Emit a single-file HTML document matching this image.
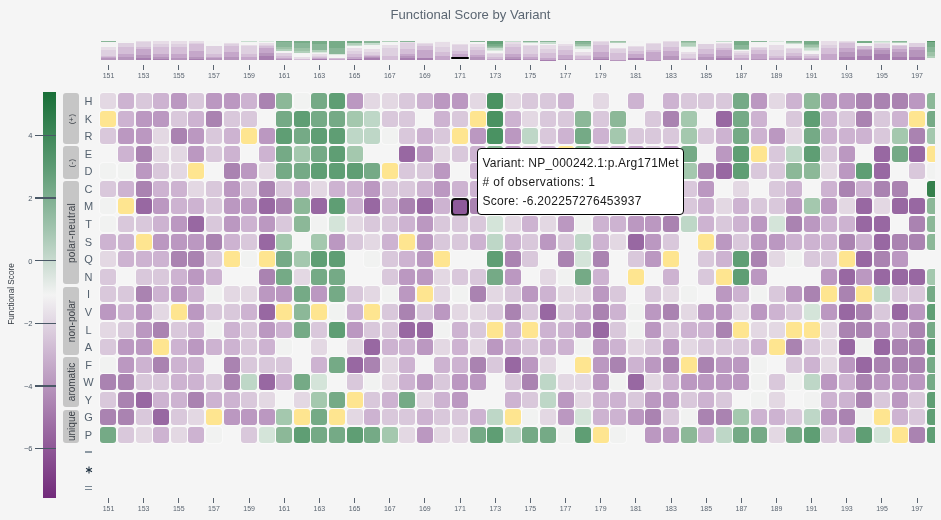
<!DOCTYPE html><html><head><meta charset="utf-8"><style>
*{margin:0;padding:0;box-sizing:border-box}
html,body{width:941px;height:520px;overflow:hidden;background:#f5f5f5;font-family:"Liberation Sans",sans-serif}
#root{position:relative;width:941px;height:520px;overflow:hidden;will-change:transform}
.ab{position:absolute}
.c{position:absolute;width:16px;height:16px;border-radius:3px;box-shadow:0 0 0 0.8px rgba(255,255,255,0.55)}
.tk{position:absolute;width:1px;background:#5a6470}
.tl{position:absolute;width:30px;text-align:center;font-size:7px;line-height:8px;color:#5a6470}
.rl{position:absolute;width:14px;text-align:center;font-size:11px;line-height:12px;color:#55626f}
.gb{position:absolute;left:62.9px;width:15.9px;background:#c6c6c6;border-radius:3px}
.gl{position:absolute;white-space:nowrap;font-size:10px;line-height:10px;color:#3c4148;transform:translate(-50%,-50%) rotate(-90deg)}
.mb{position:absolute;width:15.6px}
.mb div{height:1px;width:100%}
</style></head><body><div id="root">
<div class="ab" style="left:0;top:6.8px;width:941px;text-align:center;font-size:13.1px;line-height:16px;color:#5b6672">Functional Score by Variant</div>
<div class="ab" style="left:0;top:0;width:935.0px;height:520px;overflow:hidden">
<div class="ab" style="left:100.67px;top:41.0px;width:15.6px;height:19.38px;background:linear-gradient(to bottom,#89b698 0.00%,#89b698 5.26%,#f3f3f3 5.26%,#f3f3f3 10.53%,#f3f3f3 10.53%,#f3f3f3 15.79%,#f3f3f3 15.79%,#f3f3f3 21.05%,#f3f3f3 21.05%,#f3f3f3 26.32%,#f4f4f4 26.32%,#f4f4f4 31.58%,#e7dde7 31.58%,#e7dde7 36.84%,#e7dde7 36.84%,#e7dde7 42.11%,#e7dde7 42.11%,#e7dde7 47.37%,#ded0e0 47.37%,#ded0e0 52.63%,#ded0e0 52.63%,#ded0e0 57.89%,#ded0e0 57.89%,#ded0e0 63.16%,#ded0e0 63.16%,#ded0e0 68.42%,#ded0e0 68.42%,#ded0e0 73.68%,#ded0e0 73.68%,#ded0e0 78.95%,#d4bed7 78.95%,#d4bed7 84.21%,#c5a7ca 84.21%,#c5a7ca 89.47%,#b695bc 89.47%,#b695bc 94.74%,#b695bc 94.74%,#b695bc 100.00%)"></div>
<div class="ab" style="left:118.25px;top:41.0px;width:15.6px;height:19.38px;background:linear-gradient(to bottom,#f3f3f3 0.00%,#f3f3f3 5.26%,#f4f4f4 5.26%,#f4f4f4 10.53%,#ded0e0 10.53%,#ded0e0 15.79%,#ded0e0 15.79%,#ded0e0 21.05%,#ded0e0 21.05%,#ded0e0 26.32%,#ded0e0 26.32%,#ded0e0 31.58%,#d4bed7 31.58%,#d4bed7 36.84%,#d4bed7 36.84%,#d4bed7 42.11%,#d4bed7 42.11%,#d4bed7 47.37%,#d4bed7 47.37%,#d4bed7 52.63%,#d4bed7 52.63%,#d4bed7 57.89%,#d4bed7 57.89%,#d4bed7 63.16%,#d4bed7 63.16%,#d4bed7 68.42%,#c5a7ca 68.42%,#c5a7ca 73.68%,#c5a7ca 73.68%,#c5a7ca 78.95%,#c5a7ca 78.95%,#c5a7ca 84.21%,#b695bc 84.21%,#b695bc 89.47%,#b695bc 89.47%,#b695bc 94.74%,#b695bc 94.74%,#b695bc 100.00%)"></div>
<div class="ab" style="left:135.83px;top:41.0px;width:15.6px;height:19.38px;background:linear-gradient(to bottom,#e7dde7 0.00%,#e7dde7 5.26%,#ded0e0 5.26%,#ded0e0 10.53%,#ded0e0 10.53%,#ded0e0 15.79%,#ded0e0 15.79%,#ded0e0 21.05%,#ded0e0 21.05%,#ded0e0 26.32%,#ded0e0 26.32%,#ded0e0 31.58%,#d4bed7 31.58%,#d4bed7 36.84%,#d4bed7 36.84%,#d4bed7 42.11%,#c5a7ca 42.11%,#c5a7ca 47.37%,#c5a7ca 47.37%,#c5a7ca 52.63%,#c5a7ca 52.63%,#c5a7ca 57.89%,#c5a7ca 57.89%,#c5a7ca 63.16%,#c5a7ca 63.16%,#c5a7ca 68.42%,#c5a7ca 68.42%,#c5a7ca 73.68%,#b695bc 73.68%,#b695bc 78.95%,#b695bc 78.95%,#b695bc 84.21%,#b695bc 84.21%,#b695bc 89.47%,#a77eaf 89.47%,#a77eaf 94.74%,#a77eaf 94.74%,#a77eaf 100.00%)"></div>
<div class="ab" style="left:153.41px;top:41.0px;width:15.6px;height:19.38px;background:linear-gradient(to bottom,#e7dde7 0.00%,#e7dde7 5.26%,#e7dde7 5.26%,#e7dde7 10.53%,#e7dde7 10.53%,#e7dde7 15.79%,#ded0e0 15.79%,#ded0e0 21.05%,#ded0e0 21.05%,#ded0e0 26.32%,#ded0e0 26.32%,#ded0e0 31.58%,#d4bed7 31.58%,#d4bed7 36.84%,#d4bed7 36.84%,#d4bed7 42.11%,#d4bed7 42.11%,#d4bed7 47.37%,#d4bed7 47.37%,#d4bed7 52.63%,#d4bed7 52.63%,#d4bed7 57.89%,#d4bed7 57.89%,#d4bed7 63.16%,#d4bed7 63.16%,#d4bed7 68.42%,#c5a7ca 68.42%,#c5a7ca 73.68%,#c5a7ca 73.68%,#c5a7ca 78.95%,#c5a7ca 78.95%,#c5a7ca 84.21%,#b695bc 84.21%,#b695bc 89.47%,#b695bc 89.47%,#b695bc 94.74%,#a77eaf 94.74%,#a77eaf 100.00%)"></div>
<div class="ab" style="left:170.99px;top:41.0px;width:15.6px;height:19.38px;background:linear-gradient(to bottom,#e7dde7 0.00%,#e7dde7 5.26%,#e7dde7 5.26%,#e7dde7 10.53%,#e7dde7 10.53%,#e7dde7 15.79%,#ded0e0 15.79%,#ded0e0 21.05%,#ded0e0 21.05%,#ded0e0 26.32%,#ded0e0 26.32%,#ded0e0 31.58%,#d4bed7 31.58%,#d4bed7 36.84%,#d4bed7 36.84%,#d4bed7 42.11%,#d4bed7 42.11%,#d4bed7 47.37%,#d4bed7 47.37%,#d4bed7 52.63%,#d4bed7 52.63%,#d4bed7 57.89%,#d4bed7 57.89%,#d4bed7 63.16%,#d4bed7 63.16%,#d4bed7 68.42%,#c5a7ca 68.42%,#c5a7ca 73.68%,#c5a7ca 73.68%,#c5a7ca 78.95%,#c5a7ca 78.95%,#c5a7ca 84.21%,#c5a7ca 84.21%,#c5a7ca 89.47%,#b695bc 89.47%,#b695bc 94.74%,#b695bc 94.74%,#b695bc 100.00%)"></div>
<div class="ab" style="left:188.57px;top:41.0px;width:15.6px;height:19.38px;background:linear-gradient(to bottom,#e7dde7 0.00%,#e7dde7 5.26%,#e7dde7 5.26%,#e7dde7 10.53%,#ded0e0 10.53%,#ded0e0 15.79%,#d4bed7 15.79%,#d4bed7 21.05%,#d4bed7 21.05%,#d4bed7 26.32%,#d4bed7 26.32%,#d4bed7 31.58%,#d4bed7 31.58%,#d4bed7 36.84%,#d4bed7 36.84%,#d4bed7 42.11%,#d4bed7 42.11%,#d4bed7 47.37%,#d4bed7 47.37%,#d4bed7 52.63%,#c5a7ca 52.63%,#c5a7ca 57.89%,#c5a7ca 57.89%,#c5a7ca 63.16%,#c5a7ca 63.16%,#c5a7ca 68.42%,#c5a7ca 68.42%,#c5a7ca 73.68%,#c5a7ca 73.68%,#c5a7ca 78.95%,#c5a7ca 78.95%,#c5a7ca 84.21%,#b695bc 84.21%,#b695bc 89.47%,#b695bc 89.47%,#b695bc 94.74%,#a77eaf 94.74%,#a77eaf 100.00%)"></div>
<div class="ab" style="left:206.15px;top:41.0px;width:15.6px;height:19.38px;background:linear-gradient(to bottom,#f3f3f3 0.00%,#f3f3f3 5.26%,#f3f3f3 5.26%,#f3f3f3 10.53%,#f3f3f3 10.53%,#f3f3f3 15.79%,#f4f4f4 15.79%,#f4f4f4 21.05%,#f4f4f4 21.05%,#f4f4f4 26.32%,#ded0e0 26.32%,#ded0e0 31.58%,#ded0e0 31.58%,#ded0e0 36.84%,#ded0e0 36.84%,#ded0e0 42.11%,#ded0e0 42.11%,#ded0e0 47.37%,#ded0e0 47.37%,#ded0e0 52.63%,#ded0e0 52.63%,#ded0e0 57.89%,#ded0e0 57.89%,#ded0e0 63.16%,#ded0e0 63.16%,#ded0e0 68.42%,#d4bed7 68.42%,#d4bed7 73.68%,#d4bed7 73.68%,#d4bed7 78.95%,#d4bed7 78.95%,#d4bed7 84.21%,#c5a7ca 84.21%,#c5a7ca 89.47%,#b695bc 89.47%,#b695bc 94.74%,#b695bc 94.74%,#b695bc 100.00%)"></div>
<div class="ab" style="left:223.73px;top:41.0px;width:15.6px;height:19.38px;background:linear-gradient(to bottom,#f4f4f4 0.00%,#f4f4f4 5.26%,#f4f4f4 5.26%,#f4f4f4 10.53%,#e7dde7 10.53%,#e7dde7 15.79%,#ded0e0 15.79%,#ded0e0 21.05%,#ded0e0 21.05%,#ded0e0 26.32%,#d4bed7 26.32%,#d4bed7 31.58%,#d4bed7 31.58%,#d4bed7 36.84%,#d4bed7 36.84%,#d4bed7 42.11%,#d4bed7 42.11%,#d4bed7 47.37%,#d4bed7 47.37%,#d4bed7 52.63%,#d4bed7 52.63%,#d4bed7 57.89%,#c5a7ca 57.89%,#c5a7ca 63.16%,#c5a7ca 63.16%,#c5a7ca 68.42%,#c5a7ca 68.42%,#c5a7ca 73.68%,#c5a7ca 73.68%,#c5a7ca 78.95%,#c5a7ca 78.95%,#c5a7ca 84.21%,#b695bc 84.21%,#b695bc 89.47%,#b695bc 89.47%,#b695bc 94.74%,#b695bc 94.74%,#b695bc 100.00%)"></div>
<div class="ab" style="left:241.31px;top:41.0px;width:15.6px;height:19.38px;background:linear-gradient(to bottom,#c7ddcf 0.00%,#c7ddcf 5.26%,#f3f3f3 5.26%,#f3f3f3 10.53%,#f4f4f4 10.53%,#f4f4f4 15.79%,#f4f4f4 15.79%,#f4f4f4 21.05%,#e7dde7 21.05%,#e7dde7 26.32%,#ded0e0 26.32%,#ded0e0 31.58%,#ded0e0 31.58%,#ded0e0 36.84%,#ded0e0 36.84%,#ded0e0 42.11%,#ded0e0 42.11%,#ded0e0 47.37%,#ded0e0 47.37%,#ded0e0 52.63%,#ded0e0 52.63%,#ded0e0 57.89%,#ded0e0 57.89%,#ded0e0 63.16%,#ded0e0 63.16%,#ded0e0 68.42%,#d4bed7 68.42%,#d4bed7 73.68%,#d4bed7 73.68%,#d4bed7 78.95%,#d4bed7 78.95%,#d4bed7 84.21%,#c5a7ca 84.21%,#c5a7ca 89.47%,#c5a7ca 89.47%,#c5a7ca 94.74%,#c5a7ca 94.74%,#c5a7ca 100.00%)"></div>
<div class="ab" style="left:258.89px;top:41.0px;width:15.6px;height:19.38px;background:linear-gradient(to bottom,#dae8de 0.00%,#dae8de 5.26%,#f4f4f4 5.26%,#f4f4f4 10.53%,#e7dde7 10.53%,#e7dde7 15.79%,#e7dde7 15.79%,#e7dde7 21.05%,#ded0e0 21.05%,#ded0e0 26.32%,#d4bed7 26.32%,#d4bed7 31.58%,#d4bed7 31.58%,#d4bed7 36.84%,#c5a7ca 36.84%,#c5a7ca 42.11%,#c5a7ca 42.11%,#c5a7ca 47.37%,#c5a7ca 47.37%,#c5a7ca 52.63%,#c5a7ca 52.63%,#c5a7ca 57.89%,#c5a7ca 57.89%,#c5a7ca 63.16%,#b695bc 63.16%,#b695bc 68.42%,#b695bc 68.42%,#b695bc 73.68%,#b695bc 73.68%,#b695bc 78.95%,#a77eaf 78.95%,#a77eaf 84.21%,#a77eaf 84.21%,#a77eaf 89.47%,#a77eaf 89.47%,#a77eaf 94.74%,#a77eaf 94.74%,#a77eaf 100.00%)"></div>
<div class="ab" style="left:276.47px;top:41.0px;width:15.6px;height:19.38px;background:linear-gradient(to bottom,#77ac88 0.00%,#77ac88 5.26%,#89b698 5.26%,#89b698 10.53%,#89b698 10.53%,#89b698 15.79%,#89b698 15.79%,#89b698 21.05%,#89b698 21.05%,#89b698 26.32%,#89b698 26.32%,#89b698 31.58%,#9dc2a7 31.58%,#9dc2a7 36.84%,#9dc2a7 36.84%,#9dc2a7 42.11%,#b1d0ba 42.11%,#b1d0ba 47.37%,#b1d0ba 47.37%,#b1d0ba 52.63%,#f3f3f3 52.63%,#f3f3f3 57.89%,#f4f4f4 57.89%,#f4f4f4 63.16%,#ded0e0 63.16%,#ded0e0 68.42%,#ded0e0 68.42%,#ded0e0 73.68%,#ded0e0 73.68%,#ded0e0 78.95%,#d4bed7 78.95%,#d4bed7 84.21%,#d4bed7 84.21%,#d4bed7 89.47%,#c5a7ca 89.47%,#c5a7ca 94.74%,#b695bc 94.74%,#b695bc 100.00%)"></div>
<div class="ab" style="left:294.05px;top:41.0px;width:15.6px;height:19.38px;background:linear-gradient(to bottom,#77ac88 0.00%,#77ac88 5.26%,#77ac88 5.26%,#77ac88 10.53%,#89b698 10.53%,#89b698 15.79%,#89b698 15.79%,#89b698 21.05%,#89b698 21.05%,#89b698 26.32%,#89b698 26.32%,#89b698 31.58%,#89b698 31.58%,#89b698 36.84%,#9dc2a7 36.84%,#9dc2a7 42.11%,#9dc2a7 42.11%,#9dc2a7 47.37%,#9dc2a7 47.37%,#9dc2a7 52.63%,#b1d0ba 52.63%,#b1d0ba 57.89%,#b1d0ba 57.89%,#b1d0ba 63.16%,#f3f3f3 63.16%,#f3f3f3 68.42%,#f4f4f4 68.42%,#f4f4f4 73.68%,#f4f4f4 73.68%,#f4f4f4 78.95%,#f4f4f4 78.95%,#f4f4f4 84.21%,#e7dde7 84.21%,#e7dde7 89.47%,#e7dde7 89.47%,#e7dde7 94.74%,#d4bed7 94.74%,#d4bed7 100.00%)"></div>
<div class="ab" style="left:311.63px;top:41.0px;width:15.6px;height:19.38px;background:linear-gradient(to bottom,#77ac88 0.00%,#77ac88 5.26%,#77ac88 5.26%,#77ac88 10.53%,#77ac88 10.53%,#77ac88 15.79%,#89b698 15.79%,#89b698 21.05%,#89b698 21.05%,#89b698 26.32%,#89b698 26.32%,#89b698 31.58%,#89b698 31.58%,#89b698 36.84%,#89b698 36.84%,#89b698 42.11%,#89b698 42.11%,#89b698 47.37%,#b1d0ba 47.37%,#b1d0ba 52.63%,#b1d0ba 52.63%,#b1d0ba 57.89%,#dae8de 57.89%,#dae8de 63.16%,#f3f3f3 63.16%,#f3f3f3 68.42%,#e7dde7 68.42%,#e7dde7 73.68%,#e7dde7 73.68%,#e7dde7 78.95%,#ded0e0 78.95%,#ded0e0 84.21%,#d4bed7 84.21%,#d4bed7 89.47%,#c5a7ca 89.47%,#c5a7ca 94.74%,#a77eaf 94.74%,#a77eaf 100.00%)"></div>
<div class="ab" style="left:329.21px;top:41.0px;width:15.6px;height:19.38px;background:linear-gradient(to bottom,#77ac88 0.00%,#77ac88 5.26%,#77ac88 5.26%,#77ac88 10.53%,#77ac88 10.53%,#77ac88 15.79%,#77ac88 15.79%,#77ac88 21.05%,#77ac88 21.05%,#77ac88 26.32%,#77ac88 26.32%,#77ac88 31.58%,#77ac88 31.58%,#77ac88 36.84%,#89b698 36.84%,#89b698 42.11%,#89b698 42.11%,#89b698 47.37%,#89b698 47.37%,#89b698 52.63%,#89b698 52.63%,#89b698 57.89%,#89b698 57.89%,#89b698 63.16%,#89b698 63.16%,#89b698 68.42%,#dae8de 68.42%,#dae8de 73.68%,#f3f3f3 73.68%,#f3f3f3 78.95%,#f4f4f4 78.95%,#f4f4f4 84.21%,#f4f4f4 84.21%,#f4f4f4 89.47%,#d4bed7 89.47%,#d4bed7 94.74%,#c5a7ca 94.74%,#c5a7ca 100.00%)"></div>
<div class="ab" style="left:346.79px;top:41.0px;width:15.6px;height:19.38px;background:linear-gradient(to bottom,#77ac88 0.00%,#77ac88 5.26%,#77ac88 5.26%,#77ac88 10.53%,#b1d0ba 10.53%,#b1d0ba 15.79%,#b1d0ba 15.79%,#b1d0ba 21.05%,#c7ddcf 21.05%,#c7ddcf 26.32%,#f4f4f4 26.32%,#f4f4f4 31.58%,#f4f4f4 31.58%,#f4f4f4 36.84%,#e7dde7 36.84%,#e7dde7 42.11%,#e7dde7 42.11%,#e7dde7 47.37%,#e7dde7 47.37%,#e7dde7 52.63%,#ded0e0 52.63%,#ded0e0 57.89%,#ded0e0 57.89%,#ded0e0 63.16%,#ded0e0 63.16%,#ded0e0 68.42%,#d4bed7 68.42%,#d4bed7 73.68%,#d4bed7 73.68%,#d4bed7 78.95%,#d4bed7 78.95%,#d4bed7 84.21%,#c5a7ca 84.21%,#c5a7ca 89.47%,#c5a7ca 89.47%,#c5a7ca 94.74%,#a77eaf 94.74%,#a77eaf 100.00%)"></div>
<div class="ab" style="left:364.37px;top:41.0px;width:15.6px;height:19.38px;background:linear-gradient(to bottom,#89b698 0.00%,#89b698 5.26%,#89b698 5.26%,#89b698 10.53%,#c7ddcf 10.53%,#c7ddcf 15.79%,#c7ddcf 15.79%,#c7ddcf 21.05%,#f3f3f3 21.05%,#f3f3f3 26.32%,#f3f3f3 26.32%,#f3f3f3 31.58%,#f4f4f4 31.58%,#f4f4f4 36.84%,#f4f4f4 36.84%,#f4f4f4 42.11%,#e7dde7 42.11%,#e7dde7 47.37%,#e7dde7 47.37%,#e7dde7 52.63%,#e7dde7 52.63%,#e7dde7 57.89%,#ded0e0 57.89%,#ded0e0 63.16%,#ded0e0 63.16%,#ded0e0 68.42%,#ded0e0 68.42%,#ded0e0 73.68%,#d4bed7 73.68%,#d4bed7 78.95%,#c5a7ca 78.95%,#c5a7ca 84.21%,#b695bc 84.21%,#b695bc 89.47%,#a77eaf 89.47%,#a77eaf 94.74%,#a77eaf 94.74%,#a77eaf 100.00%)"></div>
<div class="ab" style="left:381.95px;top:41.0px;width:15.6px;height:19.38px;background:linear-gradient(to bottom,#b1d0ba 0.00%,#b1d0ba 5.26%,#f3f3f3 5.26%,#f3f3f3 10.53%,#f3f3f3 10.53%,#f3f3f3 15.79%,#f4f4f4 15.79%,#f4f4f4 21.05%,#e7dde7 21.05%,#e7dde7 26.32%,#e7dde7 26.32%,#e7dde7 31.58%,#e7dde7 31.58%,#e7dde7 36.84%,#ded0e0 36.84%,#ded0e0 42.11%,#ded0e0 42.11%,#ded0e0 47.37%,#ded0e0 47.37%,#ded0e0 52.63%,#ded0e0 52.63%,#ded0e0 57.89%,#ded0e0 57.89%,#ded0e0 63.16%,#ded0e0 63.16%,#ded0e0 68.42%,#ded0e0 68.42%,#ded0e0 73.68%,#ded0e0 73.68%,#ded0e0 78.95%,#d4bed7 78.95%,#d4bed7 84.21%,#d4bed7 84.21%,#d4bed7 89.47%,#d4bed7 89.47%,#d4bed7 94.74%,#d4bed7 94.74%,#d4bed7 100.00%)"></div>
<div class="ab" style="left:399.53px;top:41.0px;width:15.6px;height:19.38px;background:linear-gradient(to bottom,#89b698 0.00%,#89b698 5.26%,#e7dde7 5.26%,#e7dde7 10.53%,#ded0e0 10.53%,#ded0e0 15.79%,#ded0e0 15.79%,#ded0e0 21.05%,#ded0e0 21.05%,#ded0e0 26.32%,#ded0e0 26.32%,#ded0e0 31.58%,#ded0e0 31.58%,#ded0e0 36.84%,#ded0e0 36.84%,#ded0e0 42.11%,#d4bed7 42.11%,#d4bed7 47.37%,#d4bed7 47.37%,#d4bed7 52.63%,#d4bed7 52.63%,#d4bed7 57.89%,#d4bed7 57.89%,#d4bed7 63.16%,#d4bed7 63.16%,#d4bed7 68.42%,#c5a7ca 68.42%,#c5a7ca 73.68%,#c5a7ca 73.68%,#c5a7ca 78.95%,#b695bc 78.95%,#b695bc 84.21%,#b695bc 84.21%,#b695bc 89.47%,#a77eaf 89.47%,#a77eaf 94.74%,#a77eaf 94.74%,#a77eaf 100.00%)"></div>
<div class="ab" style="left:417.11px;top:41.0px;width:15.6px;height:19.38px;background:linear-gradient(to bottom,#f4f4f4 0.00%,#f4f4f4 5.26%,#f4f4f4 5.26%,#f4f4f4 10.53%,#e7dde7 10.53%,#e7dde7 15.79%,#ded0e0 15.79%,#ded0e0 21.05%,#ded0e0 21.05%,#ded0e0 26.32%,#d4bed7 26.32%,#d4bed7 31.58%,#d4bed7 31.58%,#d4bed7 36.84%,#d4bed7 36.84%,#d4bed7 42.11%,#d4bed7 42.11%,#d4bed7 47.37%,#c5a7ca 47.37%,#c5a7ca 52.63%,#c5a7ca 52.63%,#c5a7ca 57.89%,#c5a7ca 57.89%,#c5a7ca 63.16%,#c5a7ca 63.16%,#c5a7ca 68.42%,#c5a7ca 68.42%,#c5a7ca 73.68%,#c5a7ca 73.68%,#c5a7ca 78.95%,#c5a7ca 78.95%,#c5a7ca 84.21%,#c5a7ca 84.21%,#c5a7ca 89.47%,#a77eaf 89.47%,#a77eaf 94.74%,#a77eaf 94.74%,#a77eaf 100.00%)"></div>
<div class="ab" style="left:434.69px;top:41.0px;width:15.6px;height:19.38px;background:linear-gradient(to bottom,#f3f3f3 0.00%,#f3f3f3 5.26%,#e7dde7 5.26%,#e7dde7 10.53%,#e7dde7 10.53%,#e7dde7 15.79%,#e7dde7 15.79%,#e7dde7 21.05%,#e7dde7 21.05%,#e7dde7 26.32%,#e7dde7 26.32%,#e7dde7 31.58%,#ded0e0 31.58%,#ded0e0 36.84%,#ded0e0 36.84%,#ded0e0 42.11%,#ded0e0 42.11%,#ded0e0 47.37%,#ded0e0 47.37%,#ded0e0 52.63%,#ded0e0 52.63%,#ded0e0 57.89%,#d4bed7 57.89%,#d4bed7 63.16%,#d4bed7 63.16%,#d4bed7 68.42%,#d4bed7 68.42%,#d4bed7 73.68%,#d4bed7 73.68%,#d4bed7 78.95%,#c5a7ca 78.95%,#c5a7ca 84.21%,#c5a7ca 84.21%,#c5a7ca 89.47%,#c5a7ca 89.47%,#c5a7ca 94.74%,#c5a7ca 94.74%,#c5a7ca 100.00%)"></div>
<div class="ab" style="left:452.27px;top:41.0px;width:15.6px;height:17.00px;background:linear-gradient(to bottom,#f3f3f3 0.00%,#f3f3f3 5.26%,#f4f4f4 5.26%,#f4f4f4 10.53%,#f4f4f4 10.53%,#f4f4f4 15.79%,#e7dde7 15.79%,#e7dde7 21.05%,#e7dde7 21.05%,#e7dde7 26.32%,#ded0e0 26.32%,#ded0e0 31.58%,#ded0e0 31.58%,#ded0e0 36.84%,#ded0e0 36.84%,#ded0e0 42.11%,#ded0e0 42.11%,#ded0e0 47.37%,#ded0e0 47.37%,#ded0e0 52.63%,#ded0e0 52.63%,#ded0e0 57.89%,#d4bed7 57.89%,#d4bed7 63.16%,#d4bed7 63.16%,#d4bed7 68.42%,#d4bed7 68.42%,#d4bed7 73.68%,#d4bed7 73.68%,#d4bed7 78.95%,#c5a7ca 78.95%,#c5a7ca 84.21%,#c5a7ca 84.21%,#c5a7ca 89.47%,#c5a7ca 89.47%,#c5a7ca 94.74%,#a77eaf 94.74%,#a77eaf 100.00%)"></div>
<div class="ab" style="left:451.4px;top:57.1px;width:17.4px;height:1.9px;border-radius:1px;background:#000"></div>
<div class="ab" style="left:469.85px;top:41.0px;width:15.6px;height:19.38px;background:linear-gradient(to bottom,#89b698 0.00%,#89b698 5.26%,#f4f4f4 5.26%,#f4f4f4 10.53%,#f4f4f4 10.53%,#f4f4f4 15.79%,#e7dde7 15.79%,#e7dde7 21.05%,#e7dde7 21.05%,#e7dde7 26.32%,#e7dde7 26.32%,#e7dde7 31.58%,#ded0e0 31.58%,#ded0e0 36.84%,#ded0e0 36.84%,#ded0e0 42.11%,#ded0e0 42.11%,#ded0e0 47.37%,#d4bed7 47.37%,#d4bed7 52.63%,#d4bed7 52.63%,#d4bed7 57.89%,#d4bed7 57.89%,#d4bed7 63.16%,#d4bed7 63.16%,#d4bed7 68.42%,#d4bed7 68.42%,#d4bed7 73.68%,#c5a7ca 73.68%,#c5a7ca 78.95%,#c5a7ca 78.95%,#c5a7ca 84.21%,#b695bc 84.21%,#b695bc 89.47%,#b695bc 89.47%,#b695bc 94.74%,#b695bc 94.74%,#b695bc 100.00%)"></div>
<div class="ab" style="left:487.43px;top:41.0px;width:15.6px;height:19.38px;background:linear-gradient(to bottom,#65a279 0.00%,#65a279 5.26%,#65a279 5.26%,#65a279 10.53%,#65a279 10.53%,#65a279 15.79%,#77ac88 15.79%,#77ac88 21.05%,#77ac88 21.05%,#77ac88 26.32%,#89b698 26.32%,#89b698 31.58%,#9dc2a7 31.58%,#9dc2a7 36.84%,#c7ddcf 36.84%,#c7ddcf 42.11%,#c7ddcf 42.11%,#c7ddcf 47.37%,#dae8de 47.37%,#dae8de 52.63%,#f4f4f4 52.63%,#f4f4f4 57.89%,#f4f4f4 57.89%,#f4f4f4 63.16%,#e7dde7 63.16%,#e7dde7 68.42%,#ded0e0 68.42%,#ded0e0 73.68%,#ded0e0 73.68%,#ded0e0 78.95%,#ded0e0 78.95%,#ded0e0 84.21%,#d4bed7 84.21%,#d4bed7 89.47%,#d4bed7 89.47%,#d4bed7 94.74%,#c5a7ca 94.74%,#c5a7ca 100.00%)"></div>
<div class="ab" style="left:505.01px;top:41.0px;width:15.6px;height:19.38px;background:linear-gradient(to bottom,#c7ddcf 0.00%,#c7ddcf 5.26%,#e7dde7 5.26%,#e7dde7 10.53%,#e7dde7 10.53%,#e7dde7 15.79%,#ded0e0 15.79%,#ded0e0 21.05%,#ded0e0 21.05%,#ded0e0 26.32%,#ded0e0 26.32%,#ded0e0 31.58%,#d4bed7 31.58%,#d4bed7 36.84%,#d4bed7 36.84%,#d4bed7 42.11%,#d4bed7 42.11%,#d4bed7 47.37%,#d4bed7 47.37%,#d4bed7 52.63%,#d4bed7 52.63%,#d4bed7 57.89%,#d4bed7 57.89%,#d4bed7 63.16%,#d4bed7 63.16%,#d4bed7 68.42%,#c5a7ca 68.42%,#c5a7ca 73.68%,#c5a7ca 73.68%,#c5a7ca 78.95%,#c5a7ca 78.95%,#c5a7ca 84.21%,#b695bc 84.21%,#b695bc 89.47%,#b695bc 89.47%,#b695bc 94.74%,#a77eaf 94.74%,#a77eaf 100.00%)"></div>
<div class="ab" style="left:522.59px;top:41.0px;width:15.6px;height:19.38px;background:linear-gradient(to bottom,#89b698 0.00%,#89b698 5.26%,#c7ddcf 5.26%,#c7ddcf 10.53%,#f3f3f3 10.53%,#f3f3f3 15.79%,#f4f4f4 15.79%,#f4f4f4 21.05%,#e7dde7 21.05%,#e7dde7 26.32%,#ded0e0 26.32%,#ded0e0 31.58%,#ded0e0 31.58%,#ded0e0 36.84%,#ded0e0 36.84%,#ded0e0 42.11%,#ded0e0 42.11%,#ded0e0 47.37%,#ded0e0 47.37%,#ded0e0 52.63%,#ded0e0 52.63%,#ded0e0 57.89%,#ded0e0 57.89%,#ded0e0 63.16%,#ded0e0 63.16%,#ded0e0 68.42%,#d4bed7 68.42%,#d4bed7 73.68%,#d4bed7 73.68%,#d4bed7 78.95%,#d4bed7 78.95%,#d4bed7 84.21%,#c5a7ca 84.21%,#c5a7ca 89.47%,#c5a7ca 89.47%,#c5a7ca 94.74%,#b695bc 94.74%,#b695bc 100.00%)"></div>
<div class="ab" style="left:540.17px;top:41.0px;width:15.6px;height:20.40px;background:linear-gradient(to bottom,#89b698 0.00%,#89b698 5.00%,#c7ddcf 5.00%,#c7ddcf 10.00%,#c7ddcf 10.00%,#c7ddcf 15.00%,#f4f4f4 15.00%,#f4f4f4 20.00%,#e7dde7 20.00%,#e7dde7 25.00%,#e7dde7 25.00%,#e7dde7 30.00%,#e7dde7 30.00%,#e7dde7 35.00%,#e7dde7 35.00%,#e7dde7 40.00%,#ded0e0 40.00%,#ded0e0 45.00%,#ded0e0 45.00%,#ded0e0 50.00%,#ded0e0 50.00%,#ded0e0 55.00%,#ded0e0 55.00%,#ded0e0 60.00%,#d4bed7 60.00%,#d4bed7 65.00%,#d4bed7 65.00%,#d4bed7 70.00%,#d4bed7 70.00%,#d4bed7 75.00%,#d4bed7 75.00%,#d4bed7 80.00%,#d4bed7 80.00%,#d4bed7 85.00%,#c5a7ca 85.00%,#c5a7ca 90.00%,#c5a7ca 90.00%,#c5a7ca 95.00%,#a77eaf 95.00%,#a77eaf 100.00%)"></div>
<div class="ab" style="left:557.75px;top:41.0px;width:15.6px;height:19.38px;background:linear-gradient(to bottom,#f3f3f3 0.00%,#f3f3f3 5.26%,#f3f3f3 5.26%,#f3f3f3 10.53%,#f4f4f4 10.53%,#f4f4f4 15.79%,#e7dde7 15.79%,#e7dde7 21.05%,#e7dde7 21.05%,#e7dde7 26.32%,#ded0e0 26.32%,#ded0e0 31.58%,#ded0e0 31.58%,#ded0e0 36.84%,#ded0e0 36.84%,#ded0e0 42.11%,#ded0e0 42.11%,#ded0e0 47.37%,#d4bed7 47.37%,#d4bed7 52.63%,#d4bed7 52.63%,#d4bed7 57.89%,#d4bed7 57.89%,#d4bed7 63.16%,#d4bed7 63.16%,#d4bed7 68.42%,#d4bed7 68.42%,#d4bed7 73.68%,#c5a7ca 73.68%,#c5a7ca 78.95%,#c5a7ca 78.95%,#c5a7ca 84.21%,#c5a7ca 84.21%,#c5a7ca 89.47%,#c5a7ca 89.47%,#c5a7ca 94.74%,#b695bc 94.74%,#b695bc 100.00%)"></div>
<div class="ab" style="left:575.33px;top:41.0px;width:15.6px;height:19.38px;background:linear-gradient(to bottom,#77ac88 0.00%,#77ac88 5.26%,#89b698 5.26%,#89b698 10.53%,#89b698 10.53%,#89b698 15.79%,#9dc2a7 15.79%,#9dc2a7 21.05%,#9dc2a7 21.05%,#9dc2a7 26.32%,#c7ddcf 26.32%,#c7ddcf 31.58%,#dae8de 31.58%,#dae8de 36.84%,#dae8de 36.84%,#dae8de 42.11%,#f3f3f3 42.11%,#f3f3f3 47.37%,#f3f3f3 47.37%,#f3f3f3 52.63%,#f4f4f4 52.63%,#f4f4f4 57.89%,#e7dde7 57.89%,#e7dde7 63.16%,#e7dde7 63.16%,#e7dde7 68.42%,#e7dde7 68.42%,#e7dde7 73.68%,#ded0e0 73.68%,#ded0e0 78.95%,#d4bed7 78.95%,#d4bed7 84.21%,#d4bed7 84.21%,#d4bed7 89.47%,#d4bed7 89.47%,#d4bed7 94.74%,#c5a7ca 94.74%,#c5a7ca 100.00%)"></div>
<div class="ab" style="left:592.91px;top:41.0px;width:15.6px;height:19.38px;background:linear-gradient(to bottom,#e7dde7 0.00%,#e7dde7 5.26%,#ded0e0 5.26%,#ded0e0 10.53%,#ded0e0 10.53%,#ded0e0 15.79%,#ded0e0 15.79%,#ded0e0 21.05%,#d4bed7 21.05%,#d4bed7 26.32%,#d4bed7 26.32%,#d4bed7 31.58%,#d4bed7 31.58%,#d4bed7 36.84%,#d4bed7 36.84%,#d4bed7 42.11%,#d4bed7 42.11%,#d4bed7 47.37%,#d4bed7 47.37%,#d4bed7 52.63%,#d4bed7 52.63%,#d4bed7 57.89%,#c5a7ca 57.89%,#c5a7ca 63.16%,#c5a7ca 63.16%,#c5a7ca 68.42%,#c5a7ca 68.42%,#c5a7ca 73.68%,#c5a7ca 73.68%,#c5a7ca 78.95%,#c5a7ca 78.95%,#c5a7ca 84.21%,#b695bc 84.21%,#b695bc 89.47%,#b695bc 89.47%,#b695bc 94.74%,#a77eaf 94.74%,#a77eaf 100.00%)"></div>
<div class="ab" style="left:610.49px;top:41.0px;width:15.6px;height:20.40px;background:linear-gradient(to bottom,#9dc2a7 0.00%,#9dc2a7 5.00%,#b1d0ba 5.00%,#b1d0ba 10.00%,#f3f3f3 10.00%,#f3f3f3 15.00%,#f3f3f3 15.00%,#f3f3f3 20.00%,#f4f4f4 20.00%,#f4f4f4 25.00%,#f4f4f4 25.00%,#f4f4f4 30.00%,#f4f4f4 30.00%,#f4f4f4 35.00%,#e7dde7 35.00%,#e7dde7 40.00%,#ded0e0 40.00%,#ded0e0 45.00%,#ded0e0 45.00%,#ded0e0 50.00%,#ded0e0 50.00%,#ded0e0 55.00%,#ded0e0 55.00%,#ded0e0 60.00%,#d4bed7 60.00%,#d4bed7 65.00%,#d4bed7 65.00%,#d4bed7 70.00%,#d4bed7 70.00%,#d4bed7 75.00%,#d4bed7 75.00%,#d4bed7 80.00%,#d4bed7 80.00%,#d4bed7 85.00%,#d4bed7 85.00%,#d4bed7 90.00%,#d4bed7 90.00%,#d4bed7 95.00%,#b695bc 95.00%,#b695bc 100.00%)"></div>
<div class="ab" style="left:628.07px;top:41.0px;width:15.6px;height:19.38px;background:linear-gradient(to bottom,#f3f3f3 0.00%,#f3f3f3 5.26%,#f3f3f3 5.26%,#f3f3f3 10.53%,#f4f4f4 10.53%,#f4f4f4 15.79%,#f4f4f4 15.79%,#f4f4f4 21.05%,#f4f4f4 21.05%,#f4f4f4 26.32%,#e7dde7 26.32%,#e7dde7 31.58%,#ded0e0 31.58%,#ded0e0 36.84%,#ded0e0 36.84%,#ded0e0 42.11%,#ded0e0 42.11%,#ded0e0 47.37%,#ded0e0 47.37%,#ded0e0 52.63%,#d4bed7 52.63%,#d4bed7 57.89%,#d4bed7 57.89%,#d4bed7 63.16%,#d4bed7 63.16%,#d4bed7 68.42%,#c5a7ca 68.42%,#c5a7ca 73.68%,#c5a7ca 73.68%,#c5a7ca 78.95%,#c5a7ca 78.95%,#c5a7ca 84.21%,#c5a7ca 84.21%,#c5a7ca 89.47%,#a77eaf 89.47%,#a77eaf 94.74%,#a77eaf 94.74%,#a77eaf 100.00%)"></div>
<div class="ab" style="left:645.65px;top:41.0px;width:15.6px;height:20.40px;background:linear-gradient(to bottom,#f4f4f4 0.00%,#f4f4f4 5.00%,#f4f4f4 5.00%,#f4f4f4 10.00%,#e7dde7 10.00%,#e7dde7 15.00%,#ded0e0 15.00%,#ded0e0 20.00%,#ded0e0 20.00%,#ded0e0 25.00%,#ded0e0 25.00%,#ded0e0 30.00%,#ded0e0 30.00%,#ded0e0 35.00%,#ded0e0 35.00%,#ded0e0 40.00%,#ded0e0 40.00%,#ded0e0 45.00%,#d4bed7 45.00%,#d4bed7 50.00%,#d4bed7 50.00%,#d4bed7 55.00%,#c5a7ca 55.00%,#c5a7ca 60.00%,#c5a7ca 60.00%,#c5a7ca 65.00%,#c5a7ca 65.00%,#c5a7ca 70.00%,#c5a7ca 70.00%,#c5a7ca 75.00%,#c5a7ca 75.00%,#c5a7ca 80.00%,#c5a7ca 80.00%,#c5a7ca 85.00%,#c5a7ca 85.00%,#c5a7ca 90.00%,#c5a7ca 90.00%,#c5a7ca 95.00%,#b695bc 95.00%,#b695bc 100.00%)"></div>
<div class="ab" style="left:663.23px;top:41.0px;width:15.6px;height:19.38px;background:linear-gradient(to bottom,#e7dde7 0.00%,#e7dde7 5.26%,#ded0e0 5.26%,#ded0e0 10.53%,#ded0e0 10.53%,#ded0e0 15.79%,#ded0e0 15.79%,#ded0e0 21.05%,#ded0e0 21.05%,#ded0e0 26.32%,#ded0e0 26.32%,#ded0e0 31.58%,#d4bed7 31.58%,#d4bed7 36.84%,#d4bed7 36.84%,#d4bed7 42.11%,#d4bed7 42.11%,#d4bed7 47.37%,#d4bed7 47.37%,#d4bed7 52.63%,#c5a7ca 52.63%,#c5a7ca 57.89%,#c5a7ca 57.89%,#c5a7ca 63.16%,#c5a7ca 63.16%,#c5a7ca 68.42%,#c5a7ca 68.42%,#c5a7ca 73.68%,#c5a7ca 73.68%,#c5a7ca 78.95%,#b695bc 78.95%,#b695bc 84.21%,#b695bc 84.21%,#b695bc 89.47%,#b695bc 89.47%,#b695bc 94.74%,#b695bc 94.74%,#b695bc 100.00%)"></div>
<div class="ab" style="left:680.81px;top:41.0px;width:15.6px;height:19.38px;background:linear-gradient(to bottom,#89b698 0.00%,#89b698 5.26%,#9dc2a7 5.26%,#9dc2a7 10.53%,#b1d0ba 10.53%,#b1d0ba 15.79%,#b1d0ba 15.79%,#b1d0ba 21.05%,#b1d0ba 21.05%,#b1d0ba 26.32%,#c7ddcf 26.32%,#c7ddcf 31.58%,#f3f3f3 31.58%,#f3f3f3 36.84%,#f3f3f3 36.84%,#f3f3f3 42.11%,#f4f4f4 42.11%,#f4f4f4 47.37%,#f4f4f4 47.37%,#f4f4f4 52.63%,#f4f4f4 52.63%,#f4f4f4 57.89%,#e7dde7 57.89%,#e7dde7 63.16%,#e7dde7 63.16%,#e7dde7 68.42%,#ded0e0 68.42%,#ded0e0 73.68%,#ded0e0 73.68%,#ded0e0 78.95%,#ded0e0 78.95%,#ded0e0 84.21%,#ded0e0 84.21%,#ded0e0 89.47%,#d4bed7 89.47%,#d4bed7 94.74%,#c5a7ca 94.74%,#c5a7ca 100.00%)"></div>
<div class="ab" style="left:698.39px;top:41.0px;width:15.6px;height:19.38px;background:linear-gradient(to bottom,#f4f4f4 0.00%,#f4f4f4 5.26%,#f4f4f4 5.26%,#f4f4f4 10.53%,#f4f4f4 10.53%,#f4f4f4 15.79%,#ded0e0 15.79%,#ded0e0 21.05%,#ded0e0 21.05%,#ded0e0 26.32%,#ded0e0 26.32%,#ded0e0 31.58%,#ded0e0 31.58%,#ded0e0 36.84%,#ded0e0 36.84%,#ded0e0 42.11%,#d4bed7 42.11%,#d4bed7 47.37%,#d4bed7 47.37%,#d4bed7 52.63%,#d4bed7 52.63%,#d4bed7 57.89%,#d4bed7 57.89%,#d4bed7 63.16%,#d4bed7 63.16%,#d4bed7 68.42%,#c5a7ca 68.42%,#c5a7ca 73.68%,#c5a7ca 73.68%,#c5a7ca 78.95%,#c5a7ca 78.95%,#c5a7ca 84.21%,#b695bc 84.21%,#b695bc 89.47%,#b695bc 89.47%,#b695bc 94.74%,#b695bc 94.74%,#b695bc 100.00%)"></div>
<div class="ab" style="left:715.97px;top:41.0px;width:15.6px;height:19.38px;background:linear-gradient(to bottom,#c7ddcf 0.00%,#c7ddcf 5.26%,#f4f4f4 5.26%,#f4f4f4 10.53%,#e7dde7 10.53%,#e7dde7 15.79%,#ded0e0 15.79%,#ded0e0 21.05%,#ded0e0 21.05%,#ded0e0 26.32%,#ded0e0 26.32%,#ded0e0 31.58%,#ded0e0 31.58%,#ded0e0 36.84%,#d4bed7 36.84%,#d4bed7 42.11%,#d4bed7 42.11%,#d4bed7 47.37%,#c5a7ca 47.37%,#c5a7ca 52.63%,#c5a7ca 52.63%,#c5a7ca 57.89%,#c5a7ca 57.89%,#c5a7ca 63.16%,#c5a7ca 63.16%,#c5a7ca 68.42%,#c5a7ca 68.42%,#c5a7ca 73.68%,#c5a7ca 73.68%,#c5a7ca 78.95%,#b695bc 78.95%,#b695bc 84.21%,#b695bc 84.21%,#b695bc 89.47%,#a77eaf 89.47%,#a77eaf 94.74%,#a77eaf 94.74%,#a77eaf 100.00%)"></div>
<div class="ab" style="left:733.55px;top:41.0px;width:15.6px;height:19.38px;background:linear-gradient(to bottom,#77ac88 0.00%,#77ac88 5.26%,#77ac88 5.26%,#77ac88 10.53%,#77ac88 10.53%,#77ac88 15.79%,#77ac88 15.79%,#77ac88 21.05%,#89b698 21.05%,#89b698 26.32%,#89b698 26.32%,#89b698 31.58%,#89b698 31.58%,#89b698 36.84%,#89b698 36.84%,#89b698 42.11%,#b1d0ba 42.11%,#b1d0ba 47.37%,#f4f4f4 47.37%,#f4f4f4 52.63%,#e7dde7 52.63%,#e7dde7 57.89%,#e7dde7 57.89%,#e7dde7 63.16%,#ded0e0 63.16%,#ded0e0 68.42%,#ded0e0 68.42%,#ded0e0 73.68%,#d4bed7 73.68%,#d4bed7 78.95%,#d4bed7 78.95%,#d4bed7 84.21%,#d4bed7 84.21%,#d4bed7 89.47%,#c5a7ca 89.47%,#c5a7ca 94.74%,#c5a7ca 94.74%,#c5a7ca 100.00%)"></div>
<div class="ab" style="left:751.13px;top:41.0px;width:15.6px;height:19.38px;background:linear-gradient(to bottom,#89b698 0.00%,#89b698 5.26%,#f3f3f3 5.26%,#f3f3f3 10.53%,#f3f3f3 10.53%,#f3f3f3 15.79%,#f3f3f3 15.79%,#f3f3f3 21.05%,#f3f3f3 21.05%,#f3f3f3 26.32%,#f4f4f4 26.32%,#f4f4f4 31.58%,#e7dde7 31.58%,#e7dde7 36.84%,#ded0e0 36.84%,#ded0e0 42.11%,#ded0e0 42.11%,#ded0e0 47.37%,#d4bed7 47.37%,#d4bed7 52.63%,#d4bed7 52.63%,#d4bed7 57.89%,#d4bed7 57.89%,#d4bed7 63.16%,#d4bed7 63.16%,#d4bed7 68.42%,#c5a7ca 68.42%,#c5a7ca 73.68%,#c5a7ca 73.68%,#c5a7ca 78.95%,#c5a7ca 78.95%,#c5a7ca 84.21%,#c5a7ca 84.21%,#c5a7ca 89.47%,#c5a7ca 89.47%,#c5a7ca 94.74%,#b695bc 94.74%,#b695bc 100.00%)"></div>
<div class="ab" style="left:768.71px;top:41.0px;width:15.6px;height:19.38px;background:linear-gradient(to bottom,#dae8de 0.00%,#dae8de 5.26%,#f4f4f4 5.26%,#f4f4f4 10.53%,#f4f4f4 10.53%,#f4f4f4 15.79%,#f4f4f4 15.79%,#f4f4f4 21.05%,#e7dde7 21.05%,#e7dde7 26.32%,#e7dde7 26.32%,#e7dde7 31.58%,#e7dde7 31.58%,#e7dde7 36.84%,#e7dde7 36.84%,#e7dde7 42.11%,#e7dde7 42.11%,#e7dde7 47.37%,#ded0e0 47.37%,#ded0e0 52.63%,#ded0e0 52.63%,#ded0e0 57.89%,#ded0e0 57.89%,#ded0e0 63.16%,#ded0e0 63.16%,#ded0e0 68.42%,#ded0e0 68.42%,#ded0e0 73.68%,#ded0e0 73.68%,#ded0e0 78.95%,#d4bed7 78.95%,#d4bed7 84.21%,#d4bed7 84.21%,#d4bed7 89.47%,#c5a7ca 89.47%,#c5a7ca 94.74%,#c5a7ca 94.74%,#c5a7ca 100.00%)"></div>
<div class="ab" style="left:786.29px;top:41.0px;width:15.6px;height:19.38px;background:linear-gradient(to bottom,#89b698 0.00%,#89b698 5.26%,#9dc2a7 5.26%,#9dc2a7 10.53%,#c7ddcf 10.53%,#c7ddcf 15.79%,#f3f3f3 15.79%,#f3f3f3 21.05%,#f3f3f3 21.05%,#f3f3f3 26.32%,#f4f4f4 26.32%,#f4f4f4 31.58%,#f4f4f4 31.58%,#f4f4f4 36.84%,#e7dde7 36.84%,#e7dde7 42.11%,#ded0e0 42.11%,#ded0e0 47.37%,#ded0e0 47.37%,#ded0e0 52.63%,#ded0e0 52.63%,#ded0e0 57.89%,#ded0e0 57.89%,#ded0e0 63.16%,#d4bed7 63.16%,#d4bed7 68.42%,#d4bed7 68.42%,#d4bed7 73.68%,#d4bed7 73.68%,#d4bed7 78.95%,#c5a7ca 78.95%,#c5a7ca 84.21%,#c5a7ca 84.21%,#c5a7ca 89.47%,#b695bc 89.47%,#b695bc 94.74%,#b695bc 94.74%,#b695bc 100.00%)"></div>
<div class="ab" style="left:803.87px;top:41.0px;width:15.6px;height:19.38px;background:linear-gradient(to bottom,#77ac88 0.00%,#77ac88 5.26%,#77ac88 5.26%,#77ac88 10.53%,#77ac88 10.53%,#77ac88 15.79%,#89b698 15.79%,#89b698 21.05%,#9dc2a7 21.05%,#9dc2a7 26.32%,#9dc2a7 26.32%,#9dc2a7 31.58%,#b1d0ba 31.58%,#b1d0ba 36.84%,#c7ddcf 36.84%,#c7ddcf 42.11%,#c7ddcf 42.11%,#c7ddcf 47.37%,#dae8de 47.37%,#dae8de 52.63%,#f3f3f3 52.63%,#f3f3f3 57.89%,#f4f4f4 57.89%,#f4f4f4 63.16%,#f4f4f4 63.16%,#f4f4f4 68.42%,#ded0e0 68.42%,#ded0e0 73.68%,#ded0e0 73.68%,#ded0e0 78.95%,#d4bed7 78.95%,#d4bed7 84.21%,#d4bed7 84.21%,#d4bed7 89.47%,#c5a7ca 89.47%,#c5a7ca 94.74%,#b695bc 94.74%,#b695bc 100.00%)"></div>
<div class="ab" style="left:821.45px;top:41.0px;width:15.6px;height:19.38px;background:linear-gradient(to bottom,#e7dde7 0.00%,#e7dde7 5.26%,#e7dde7 5.26%,#e7dde7 10.53%,#e7dde7 10.53%,#e7dde7 15.79%,#e7dde7 15.79%,#e7dde7 21.05%,#ded0e0 21.05%,#ded0e0 26.32%,#ded0e0 26.32%,#ded0e0 31.58%,#ded0e0 31.58%,#ded0e0 36.84%,#d4bed7 36.84%,#d4bed7 42.11%,#d4bed7 42.11%,#d4bed7 47.37%,#d4bed7 47.37%,#d4bed7 52.63%,#d4bed7 52.63%,#d4bed7 57.89%,#d4bed7 57.89%,#d4bed7 63.16%,#d4bed7 63.16%,#d4bed7 68.42%,#c5a7ca 68.42%,#c5a7ca 73.68%,#c5a7ca 73.68%,#c5a7ca 78.95%,#c5a7ca 78.95%,#c5a7ca 84.21%,#c5a7ca 84.21%,#c5a7ca 89.47%,#c5a7ca 89.47%,#c5a7ca 94.74%,#c5a7ca 94.74%,#c5a7ca 100.00%)"></div>
<div class="ab" style="left:839.03px;top:41.0px;width:15.6px;height:19.38px;background:linear-gradient(to bottom,#e7dde7 0.00%,#e7dde7 5.26%,#ded0e0 5.26%,#ded0e0 10.53%,#d4bed7 10.53%,#d4bed7 15.79%,#d4bed7 15.79%,#d4bed7 21.05%,#d4bed7 21.05%,#d4bed7 26.32%,#d4bed7 26.32%,#d4bed7 31.58%,#d4bed7 31.58%,#d4bed7 36.84%,#c5a7ca 36.84%,#c5a7ca 42.11%,#c5a7ca 42.11%,#c5a7ca 47.37%,#c5a7ca 47.37%,#c5a7ca 52.63%,#c5a7ca 52.63%,#c5a7ca 57.89%,#b695bc 57.89%,#b695bc 63.16%,#b695bc 63.16%,#b695bc 68.42%,#b695bc 68.42%,#b695bc 73.68%,#b695bc 73.68%,#b695bc 78.95%,#b695bc 78.95%,#b695bc 84.21%,#a77eaf 84.21%,#a77eaf 89.47%,#a77eaf 89.47%,#a77eaf 94.74%,#a77eaf 94.74%,#a77eaf 100.00%)"></div>
<div class="ab" style="left:856.61px;top:41.0px;width:15.6px;height:19.38px;background:linear-gradient(to bottom,#77ac88 0.00%,#77ac88 5.26%,#77ac88 5.26%,#77ac88 10.53%,#f3f3f3 10.53%,#f3f3f3 15.79%,#f3f3f3 15.79%,#f3f3f3 21.05%,#f4f4f4 21.05%,#f4f4f4 26.32%,#d4bed7 26.32%,#d4bed7 31.58%,#d4bed7 31.58%,#d4bed7 36.84%,#d4bed7 36.84%,#d4bed7 42.11%,#c5a7ca 42.11%,#c5a7ca 47.37%,#b695bc 47.37%,#b695bc 52.63%,#b695bc 52.63%,#b695bc 57.89%,#b695bc 57.89%,#b695bc 63.16%,#b695bc 63.16%,#b695bc 68.42%,#b695bc 68.42%,#b695bc 73.68%,#b695bc 73.68%,#b695bc 78.95%,#a77eaf 78.95%,#a77eaf 84.21%,#a77eaf 84.21%,#a77eaf 89.47%,#a77eaf 89.47%,#a77eaf 94.74%,#a77eaf 94.74%,#a77eaf 100.00%)"></div>
<div class="ab" style="left:874.19px;top:41.0px;width:15.6px;height:19.38px;background:linear-gradient(to bottom,#c7ddcf 0.00%,#c7ddcf 5.26%,#dae8de 5.26%,#dae8de 10.53%,#e7dde7 10.53%,#e7dde7 15.79%,#ded0e0 15.79%,#ded0e0 21.05%,#ded0e0 21.05%,#ded0e0 26.32%,#ded0e0 26.32%,#ded0e0 31.58%,#ded0e0 31.58%,#ded0e0 36.84%,#c5a7ca 36.84%,#c5a7ca 42.11%,#c5a7ca 42.11%,#c5a7ca 47.37%,#b695bc 47.37%,#b695bc 52.63%,#b695bc 52.63%,#b695bc 57.89%,#b695bc 57.89%,#b695bc 63.16%,#b695bc 63.16%,#b695bc 68.42%,#a77eaf 68.42%,#a77eaf 73.68%,#a77eaf 73.68%,#a77eaf 78.95%,#a77eaf 78.95%,#a77eaf 84.21%,#a77eaf 84.21%,#a77eaf 89.47%,#a77eaf 89.47%,#a77eaf 94.74%,#a77eaf 94.74%,#a77eaf 100.00%)"></div>
<div class="ab" style="left:891.77px;top:41.0px;width:15.6px;height:19.38px;background:linear-gradient(to bottom,#89b698 0.00%,#89b698 5.26%,#b1d0ba 5.26%,#b1d0ba 10.53%,#f4f4f4 10.53%,#f4f4f4 15.79%,#f4f4f4 15.79%,#f4f4f4 21.05%,#ded0e0 21.05%,#ded0e0 26.32%,#d4bed7 26.32%,#d4bed7 31.58%,#d4bed7 31.58%,#d4bed7 36.84%,#d4bed7 36.84%,#d4bed7 42.11%,#c5a7ca 42.11%,#c5a7ca 47.37%,#c5a7ca 47.37%,#c5a7ca 52.63%,#c5a7ca 52.63%,#c5a7ca 57.89%,#b695bc 57.89%,#b695bc 63.16%,#b695bc 63.16%,#b695bc 68.42%,#b695bc 68.42%,#b695bc 73.68%,#b695bc 73.68%,#b695bc 78.95%,#b695bc 78.95%,#b695bc 84.21%,#a77eaf 84.21%,#a77eaf 89.47%,#a77eaf 89.47%,#a77eaf 94.74%,#a77eaf 94.74%,#a77eaf 100.00%)"></div>
<div class="ab" style="left:909.35px;top:41.0px;width:15.6px;height:19.38px;background:linear-gradient(to bottom,#f4f4f4 0.00%,#f4f4f4 5.26%,#f4f4f4 5.26%,#f4f4f4 10.53%,#ded0e0 10.53%,#ded0e0 15.79%,#ded0e0 15.79%,#ded0e0 21.05%,#ded0e0 21.05%,#ded0e0 26.32%,#ded0e0 26.32%,#ded0e0 31.58%,#c5a7ca 31.58%,#c5a7ca 36.84%,#c5a7ca 36.84%,#c5a7ca 42.11%,#c5a7ca 42.11%,#c5a7ca 47.37%,#b695bc 47.37%,#b695bc 52.63%,#b695bc 52.63%,#b695bc 57.89%,#b695bc 57.89%,#b695bc 63.16%,#b695bc 63.16%,#b695bc 68.42%,#b695bc 68.42%,#b695bc 73.68%,#b695bc 73.68%,#b695bc 78.95%,#b695bc 78.95%,#b695bc 84.21%,#a77eaf 84.21%,#a77eaf 89.47%,#a77eaf 89.47%,#a77eaf 94.74%,#a77eaf 94.74%,#a77eaf 100.00%)"></div>
<div class="ab" style="left:926.93px;top:41.0px;width:15.6px;height:19.38px;background:linear-gradient(to bottom,#539366 0.00%,#539366 5.26%,#77ac88 5.26%,#77ac88 10.53%,#77ac88 10.53%,#77ac88 15.79%,#77ac88 15.79%,#77ac88 21.05%,#77ac88 21.05%,#77ac88 26.32%,#77ac88 26.32%,#77ac88 31.58%,#89b698 31.58%,#89b698 36.84%,#89b698 36.84%,#89b698 42.11%,#89b698 42.11%,#89b698 47.37%,#89b698 47.37%,#89b698 52.63%,#89b698 52.63%,#89b698 57.89%,#9dc2a7 57.89%,#9dc2a7 63.16%,#9dc2a7 63.16%,#9dc2a7 68.42%,#9dc2a7 68.42%,#9dc2a7 73.68%,#9dc2a7 73.68%,#9dc2a7 78.95%,#b1d0ba 78.95%,#b1d0ba 84.21%,#b1d0ba 84.21%,#b1d0ba 89.47%,#f3f3f3 89.47%,#f3f3f3 94.74%,#f4f4f4 94.74%,#f4f4f4 100.00%)"></div>
<div class="c" style="left:100.47px;top:93.00px;background:#e3d8e3"></div>
<div class="c" style="left:118.05px;top:93.00px;background:#cdb3d1"></div>
<div class="c" style="left:135.63px;top:93.00px;background:#d9c8db"></div>
<div class="c" style="left:153.21px;top:93.00px;background:#cdb3d1"></div>
<div class="c" style="left:170.79px;top:93.00px;background:#bb98c1"></div>
<div class="c" style="left:188.37px;top:93.00px;background:#d9c8db"></div>
<div class="c" style="left:205.95px;top:93.00px;background:#bb98c1"></div>
<div class="c" style="left:223.53px;top:93.00px;background:#bb98c1"></div>
<div class="c" style="left:241.11px;top:93.00px;background:#cdb3d1"></div>
<div class="c" style="left:258.69px;top:93.00px;background:#aa83b1"></div>
<div class="c" style="left:276.27px;top:93.00px;background:#8cb898"></div>
<div class="c" style="left:293.85px;top:93.00px;background:#f1f2f1"></div>
<div class="c" style="left:311.43px;top:93.00px;background:#75aa86"></div>
<div class="c" style="left:329.01px;top:93.00px;background:#5f9e74"></div>
<div class="c" style="left:346.59px;top:93.00px;background:#bb98c1"></div>
<div class="c" style="left:364.17px;top:93.00px;background:#e3d8e3"></div>
<div class="c" style="left:381.75px;top:93.00px;background:#e3d8e3"></div>
<div class="c" style="left:399.33px;top:93.00px;background:#d9c8db"></div>
<div class="c" style="left:416.91px;top:93.00px;background:#cdb3d1"></div>
<div class="c" style="left:434.49px;top:93.00px;background:#bb98c1"></div>
<div class="c" style="left:452.07px;top:93.00px;background:#bb98c1"></div>
<div class="c" style="left:469.65px;top:93.00px;background:#e3d8e3"></div>
<div class="c" style="left:487.23px;top:93.00px;background:#4a9262"></div>
<div class="c" style="left:504.81px;top:93.00px;background:#e3d8e3"></div>
<div class="c" style="left:522.39px;top:93.00px;background:#d9c8db"></div>
<div class="c" style="left:539.97px;top:93.00px;background:#d9c8db"></div>
<div class="c" style="left:557.55px;top:93.00px;background:#cdb3d1"></div>
<div class="c" style="left:592.71px;top:93.00px;background:#e3d8e3"></div>
<div class="c" style="left:627.87px;top:93.00px;background:#cdb3d1"></div>
<div class="c" style="left:663.03px;top:93.00px;background:#cdb3d1"></div>
<div class="c" style="left:680.61px;top:93.00px;background:#d9c8db"></div>
<div class="c" style="left:698.19px;top:93.00px;background:#d9c8db"></div>
<div class="c" style="left:715.77px;top:93.00px;background:#d9c8db"></div>
<div class="c" style="left:733.35px;top:93.00px;background:#75aa86"></div>
<div class="c" style="left:750.93px;top:93.00px;background:#bb98c1"></div>
<div class="c" style="left:768.51px;top:93.00px;background:#e3d8e3"></div>
<div class="c" style="left:786.09px;top:93.00px;background:#cdb3d1"></div>
<div class="c" style="left:803.67px;top:93.00px;background:#8cb898"></div>
<div class="c" style="left:821.25px;top:93.00px;background:#bb98c1"></div>
<div class="c" style="left:838.83px;top:93.00px;background:#bb98c1"></div>
<div class="c" style="left:856.41px;top:93.00px;background:#aa83b1"></div>
<div class="c" style="left:873.99px;top:93.00px;background:#aa83b1"></div>
<div class="c" style="left:891.57px;top:93.00px;background:#aa83b1"></div>
<div class="c" style="left:909.15px;top:93.00px;background:#bb98c1"></div>
<div class="c" style="left:926.73px;top:93.00px;background:#8cb898"></div>
<div class="c" style="left:100.47px;top:110.58px;background:#fee590"></div>
<div class="c" style="left:118.05px;top:110.58px;background:#cdb3d1"></div>
<div class="c" style="left:135.63px;top:110.58px;background:#bb98c1"></div>
<div class="c" style="left:153.21px;top:110.58px;background:#bb98c1"></div>
<div class="c" style="left:170.79px;top:110.58px;background:#d9c8db"></div>
<div class="c" style="left:188.37px;top:110.58px;background:#cdb3d1"></div>
<div class="c" style="left:205.95px;top:110.58px;background:#aa83b1"></div>
<div class="c" style="left:223.53px;top:110.58px;background:#d9c8db"></div>
<div class="c" style="left:241.11px;top:110.58px;background:#d9c8db"></div>
<div class="c" style="left:276.27px;top:110.58px;background:#75aa86"></div>
<div class="c" style="left:293.85px;top:110.58px;background:#5f9e74"></div>
<div class="c" style="left:311.43px;top:110.58px;background:#75aa86"></div>
<div class="c" style="left:329.01px;top:110.58px;background:#75aa86"></div>
<div class="c" style="left:346.59px;top:110.58px;background:#a4c8ae"></div>
<div class="c" style="left:364.17px;top:110.58px;background:#bed7c7"></div>
<div class="c" style="left:381.75px;top:110.58px;background:#d9c8db"></div>
<div class="c" style="left:399.33px;top:110.58px;background:#d9c8db"></div>
<div class="c" style="left:434.49px;top:110.58px;background:#cdb3d1"></div>
<div class="c" style="left:452.07px;top:110.58px;background:#d9c8db"></div>
<div class="c" style="left:469.65px;top:110.58px;background:#fee590"></div>
<div class="c" style="left:487.23px;top:110.58px;background:#4a9262"></div>
<div class="c" style="left:504.81px;top:110.58px;background:#cdb3d1"></div>
<div class="c" style="left:522.39px;top:110.58px;background:#e3d8e3"></div>
<div class="c" style="left:539.97px;top:110.58px;background:#d9c8db"></div>
<div class="c" style="left:557.55px;top:110.58px;background:#d9c8db"></div>
<div class="c" style="left:575.13px;top:110.58px;background:#8cb898"></div>
<div class="c" style="left:592.71px;top:110.58px;background:#d9c8db"></div>
<div class="c" style="left:610.29px;top:110.58px;background:#8cb898"></div>
<div class="c" style="left:645.45px;top:110.58px;background:#d9c8db"></div>
<div class="c" style="left:663.03px;top:110.58px;background:#aa83b1"></div>
<div class="c" style="left:680.61px;top:110.58px;background:#a4c8ae"></div>
<div class="c" style="left:715.77px;top:110.58px;background:#9868a2"></div>
<div class="c" style="left:733.35px;top:110.58px;background:#75aa86"></div>
<div class="c" style="left:750.93px;top:110.58px;background:#cdb3d1"></div>
<div class="c" style="left:786.09px;top:110.58px;background:#d9c8db"></div>
<div class="c" style="left:803.67px;top:110.58px;background:#5f9e74"></div>
<div class="c" style="left:821.25px;top:110.58px;background:#cdb3d1"></div>
<div class="c" style="left:838.83px;top:110.58px;background:#d9c8db"></div>
<div class="c" style="left:856.41px;top:110.58px;background:#aa83b1"></div>
<div class="c" style="left:873.99px;top:110.58px;background:#d9c8db"></div>
<div class="c" style="left:891.57px;top:110.58px;background:#cdb3d1"></div>
<div class="c" style="left:909.15px;top:110.58px;background:#fee590"></div>
<div class="c" style="left:926.73px;top:110.58px;background:#75aa86"></div>
<div class="c" style="left:100.47px;top:128.16px;background:#d9c8db"></div>
<div class="c" style="left:118.05px;top:128.16px;background:#bb98c1"></div>
<div class="c" style="left:135.63px;top:128.16px;background:#bb98c1"></div>
<div class="c" style="left:153.21px;top:128.16px;background:#e3d8e3"></div>
<div class="c" style="left:170.79px;top:128.16px;background:#aa83b1"></div>
<div class="c" style="left:188.37px;top:128.16px;background:#bb98c1"></div>
<div class="c" style="left:205.95px;top:128.16px;background:#d9c8db"></div>
<div class="c" style="left:223.53px;top:128.16px;background:#cdb3d1"></div>
<div class="c" style="left:241.11px;top:128.16px;background:#fee590"></div>
<div class="c" style="left:258.69px;top:128.16px;background:#bb98c1"></div>
<div class="c" style="left:276.27px;top:128.16px;background:#5f9e74"></div>
<div class="c" style="left:293.85px;top:128.16px;background:#75aa86"></div>
<div class="c" style="left:311.43px;top:128.16px;background:#5f9e74"></div>
<div class="c" style="left:329.01px;top:128.16px;background:#5f9e74"></div>
<div class="c" style="left:346.59px;top:128.16px;background:#bed7c7"></div>
<div class="c" style="left:364.17px;top:128.16px;background:#bed7c7"></div>
<div class="c" style="left:381.75px;top:128.16px;background:#f1f2f1"></div>
<div class="c" style="left:399.33px;top:128.16px;background:#d9c8db"></div>
<div class="c" style="left:416.91px;top:128.16px;background:#cdb3d1"></div>
<div class="c" style="left:434.49px;top:128.16px;background:#d9c8db"></div>
<div class="c" style="left:452.07px;top:128.16px;background:#fee590"></div>
<div class="c" style="left:469.65px;top:128.16px;background:#bb98c1"></div>
<div class="c" style="left:487.23px;top:128.16px;background:#4a9262"></div>
<div class="c" style="left:504.81px;top:128.16px;background:#bb98c1"></div>
<div class="c" style="left:522.39px;top:128.16px;background:#bed7c7"></div>
<div class="c" style="left:539.97px;top:128.16px;background:#d9c8db"></div>
<div class="c" style="left:557.55px;top:128.16px;background:#cdb3d1"></div>
<div class="c" style="left:575.13px;top:128.16px;background:#75aa86"></div>
<div class="c" style="left:592.71px;top:128.16px;background:#cdb3d1"></div>
<div class="c" style="left:610.29px;top:128.16px;background:#a4c8ae"></div>
<div class="c" style="left:627.87px;top:128.16px;background:#d9c8db"></div>
<div class="c" style="left:645.45px;top:128.16px;background:#d9c8db"></div>
<div class="c" style="left:663.03px;top:128.16px;background:#d9c8db"></div>
<div class="c" style="left:680.61px;top:128.16px;background:#a4c8ae"></div>
<div class="c" style="left:698.19px;top:128.16px;background:#d9c8db"></div>
<div class="c" style="left:715.77px;top:128.16px;background:#cdb3d1"></div>
<div class="c" style="left:733.35px;top:128.16px;background:#75aa86"></div>
<div class="c" style="left:750.93px;top:128.16px;background:#cdb3d1"></div>
<div class="c" style="left:768.51px;top:128.16px;background:#bb98c1"></div>
<div class="c" style="left:786.09px;top:128.16px;background:#e3d8e3"></div>
<div class="c" style="left:803.67px;top:128.16px;background:#75aa86"></div>
<div class="c" style="left:821.25px;top:128.16px;background:#cdb3d1"></div>
<div class="c" style="left:838.83px;top:128.16px;background:#cdb3d1"></div>
<div class="c" style="left:856.41px;top:128.16px;background:#cdb3d1"></div>
<div class="c" style="left:873.99px;top:128.16px;background:#d9c8db"></div>
<div class="c" style="left:891.57px;top:128.16px;background:#a4c8ae"></div>
<div class="c" style="left:909.15px;top:128.16px;background:#aa83b1"></div>
<div class="c" style="left:926.73px;top:128.16px;background:#a4c8ae"></div>
<div class="c" style="left:118.05px;top:145.74px;background:#cdb3d1"></div>
<div class="c" style="left:135.63px;top:145.74px;background:#aa83b1"></div>
<div class="c" style="left:153.21px;top:145.74px;background:#e3d8e3"></div>
<div class="c" style="left:170.79px;top:145.74px;background:#e3d8e3"></div>
<div class="c" style="left:188.37px;top:145.74px;background:#bb98c1"></div>
<div class="c" style="left:205.95px;top:145.74px;background:#d9c8db"></div>
<div class="c" style="left:223.53px;top:145.74px;background:#cdb3d1"></div>
<div class="c" style="left:258.69px;top:145.74px;background:#cdb3d1"></div>
<div class="c" style="left:276.27px;top:145.74px;background:#75aa86"></div>
<div class="c" style="left:293.85px;top:145.74px;background:#a4c8ae"></div>
<div class="c" style="left:311.43px;top:145.74px;background:#75aa86"></div>
<div class="c" style="left:329.01px;top:145.74px;background:#5f9e74"></div>
<div class="c" style="left:346.59px;top:145.74px;background:#a4c8ae"></div>
<div class="c" style="left:399.33px;top:145.74px;background:#9868a2"></div>
<div class="c" style="left:416.91px;top:145.74px;background:#bb98c1"></div>
<div class="c" style="left:434.49px;top:145.74px;background:#e3d8e3"></div>
<div class="c" style="left:452.07px;top:145.74px;background:#d9c8db"></div>
<div class="c" style="left:469.65px;top:145.74px;background:#cdb3d1"></div>
<div class="c" style="left:487.23px;top:145.74px;background:#8cb898"></div>
<div class="c" style="left:504.81px;top:145.74px;background:#bb98c1"></div>
<div class="c" style="left:522.39px;top:145.74px;background:#d9c8db"></div>
<div class="c" style="left:539.97px;top:145.74px;background:#cdb3d1"></div>
<div class="c" style="left:557.55px;top:145.74px;background:#fee590"></div>
<div class="c" style="left:575.13px;top:145.74px;background:#8cb898"></div>
<div class="c" style="left:592.71px;top:145.74px;background:#d9c8db"></div>
<div class="c" style="left:610.29px;top:145.74px;background:#cdb3d1"></div>
<div class="c" style="left:627.87px;top:145.74px;background:#bb98c1"></div>
<div class="c" style="left:645.45px;top:145.74px;background:#d9c8db"></div>
<div class="c" style="left:663.03px;top:145.74px;background:#bb98c1"></div>
<div class="c" style="left:680.61px;top:145.74px;background:#75aa86"></div>
<div class="c" style="left:715.77px;top:145.74px;background:#bb98c1"></div>
<div class="c" style="left:733.35px;top:145.74px;background:#5f9e74"></div>
<div class="c" style="left:750.93px;top:145.74px;background:#fee590"></div>
<div class="c" style="left:768.51px;top:145.74px;background:#d9c8db"></div>
<div class="c" style="left:786.09px;top:145.74px;background:#bed7c7"></div>
<div class="c" style="left:803.67px;top:145.74px;background:#5f9e74"></div>
<div class="c" style="left:821.25px;top:145.74px;background:#d9c8db"></div>
<div class="c" style="left:838.83px;top:145.74px;background:#bb98c1"></div>
<div class="c" style="left:873.99px;top:145.74px;background:#9868a2"></div>
<div class="c" style="left:891.57px;top:145.74px;background:#75aa86"></div>
<div class="c" style="left:909.15px;top:145.74px;background:#9868a2"></div>
<div class="c" style="left:926.73px;top:145.74px;background:#fee590"></div>
<div class="c" style="left:100.47px;top:163.32px;background:#f1f2f1"></div>
<div class="c" style="left:118.05px;top:163.32px;background:#f1f2f1"></div>
<div class="c" style="left:135.63px;top:163.32px;background:#bb98c1"></div>
<div class="c" style="left:153.21px;top:163.32px;background:#d9c8db"></div>
<div class="c" style="left:170.79px;top:163.32px;background:#e3d8e3"></div>
<div class="c" style="left:188.37px;top:163.32px;background:#fee590"></div>
<div class="c" style="left:223.53px;top:163.32px;background:#aa83b1"></div>
<div class="c" style="left:241.11px;top:163.32px;background:#bb98c1"></div>
<div class="c" style="left:258.69px;top:163.32px;background:#e3d8e3"></div>
<div class="c" style="left:276.27px;top:163.32px;background:#75aa86"></div>
<div class="c" style="left:293.85px;top:163.32px;background:#75aa86"></div>
<div class="c" style="left:311.43px;top:163.32px;background:#5f9e74"></div>
<div class="c" style="left:329.01px;top:163.32px;background:#5f9e74"></div>
<div class="c" style="left:346.59px;top:163.32px;background:#5f9e74"></div>
<div class="c" style="left:364.17px;top:163.32px;background:#75aa86"></div>
<div class="c" style="left:381.75px;top:163.32px;background:#fee590"></div>
<div class="c" style="left:399.33px;top:163.32px;background:#d9c8db"></div>
<div class="c" style="left:416.91px;top:163.32px;background:#d9c8db"></div>
<div class="c" style="left:434.49px;top:163.32px;background:#bb98c1"></div>
<div class="c" style="left:469.65px;top:163.32px;background:#cdb3d1"></div>
<div class="c" style="left:487.23px;top:163.32px;background:#cdb3d1"></div>
<div class="c" style="left:504.81px;top:163.32px;background:#d9c8db"></div>
<div class="c" style="left:522.39px;top:163.32px;background:#d9c8db"></div>
<div class="c" style="left:539.97px;top:163.32px;background:#cdb3d1"></div>
<div class="c" style="left:557.55px;top:163.32px;background:#bb98c1"></div>
<div class="c" style="left:575.13px;top:163.32px;background:#d9c8db"></div>
<div class="c" style="left:592.71px;top:163.32px;background:#d9c8db"></div>
<div class="c" style="left:610.29px;top:163.32px;background:#cdb3d1"></div>
<div class="c" style="left:627.87px;top:163.32px;background:#d9c8db"></div>
<div class="c" style="left:645.45px;top:163.32px;background:#cdb3d1"></div>
<div class="c" style="left:663.03px;top:163.32px;background:#bb98c1"></div>
<div class="c" style="left:680.61px;top:163.32px;background:#a4c8ae"></div>
<div class="c" style="left:698.19px;top:163.32px;background:#aa83b1"></div>
<div class="c" style="left:715.77px;top:163.32px;background:#9868a2"></div>
<div class="c" style="left:733.35px;top:163.32px;background:#5f9e74"></div>
<div class="c" style="left:750.93px;top:163.32px;background:#d9c8db"></div>
<div class="c" style="left:768.51px;top:163.32px;background:#d9c8db"></div>
<div class="c" style="left:786.09px;top:163.32px;background:#8cb898"></div>
<div class="c" style="left:803.67px;top:163.32px;background:#8cb898"></div>
<div class="c" style="left:821.25px;top:163.32px;background:#e3d8e3"></div>
<div class="c" style="left:838.83px;top:163.32px;background:#bb98c1"></div>
<div class="c" style="left:856.41px;top:163.32px;background:#5f9e74"></div>
<div class="c" style="left:873.99px;top:163.32px;background:#9868a2"></div>
<div class="c" style="left:909.15px;top:163.32px;background:#d9c8db"></div>
<div class="c" style="left:926.73px;top:163.32px;background:#f1f2f1"></div>
<div class="c" style="left:100.47px;top:180.90px;background:#d9c8db"></div>
<div class="c" style="left:118.05px;top:180.90px;background:#cdb3d1"></div>
<div class="c" style="left:135.63px;top:180.90px;background:#aa83b1"></div>
<div class="c" style="left:153.21px;top:180.90px;background:#cdb3d1"></div>
<div class="c" style="left:170.79px;top:180.90px;background:#cdb3d1"></div>
<div class="c" style="left:188.37px;top:180.90px;background:#e3d8e3"></div>
<div class="c" style="left:205.95px;top:180.90px;background:#d9c8db"></div>
<div class="c" style="left:223.53px;top:180.90px;background:#bb98c1"></div>
<div class="c" style="left:241.11px;top:180.90px;background:#d9c8db"></div>
<div class="c" style="left:258.69px;top:180.90px;background:#aa83b1"></div>
<div class="c" style="left:276.27px;top:180.90px;background:#d9c8db"></div>
<div class="c" style="left:293.85px;top:180.90px;background:#cdb3d1"></div>
<div class="c" style="left:311.43px;top:180.90px;background:#e3d8e3"></div>
<div class="c" style="left:329.01px;top:180.90px;background:#cdb3d1"></div>
<div class="c" style="left:346.59px;top:180.90px;background:#cdb3d1"></div>
<div class="c" style="left:364.17px;top:180.90px;background:#bb98c1"></div>
<div class="c" style="left:381.75px;top:180.90px;background:#d9c8db"></div>
<div class="c" style="left:399.33px;top:180.90px;background:#d9c8db"></div>
<div class="c" style="left:416.91px;top:180.90px;background:#cdb3d1"></div>
<div class="c" style="left:434.49px;top:180.90px;background:#bb98c1"></div>
<div class="c" style="left:452.07px;top:180.90px;background:#cdb3d1"></div>
<div class="c" style="left:469.65px;top:180.90px;background:#cdb3d1"></div>
<div class="c" style="left:487.23px;top:180.90px;background:#d9c8db"></div>
<div class="c" style="left:504.81px;top:180.90px;background:#cdb3d1"></div>
<div class="c" style="left:522.39px;top:180.90px;background:#cdb3d1"></div>
<div class="c" style="left:539.97px;top:180.90px;background:#d9c8db"></div>
<div class="c" style="left:557.55px;top:180.90px;background:#cdb3d1"></div>
<div class="c" style="left:575.13px;top:180.90px;background:#cdb3d1"></div>
<div class="c" style="left:592.71px;top:180.90px;background:#bb98c1"></div>
<div class="c" style="left:610.29px;top:180.90px;background:#d9c8db"></div>
<div class="c" style="left:627.87px;top:180.90px;background:#cdb3d1"></div>
<div class="c" style="left:645.45px;top:180.90px;background:#d9c8db"></div>
<div class="c" style="left:663.03px;top:180.90px;background:#cdb3d1"></div>
<div class="c" style="left:680.61px;top:180.90px;background:#d9c8db"></div>
<div class="c" style="left:698.19px;top:180.90px;background:#bb98c1"></div>
<div class="c" style="left:733.35px;top:180.90px;background:#e3d8e3"></div>
<div class="c" style="left:768.51px;top:180.90px;background:#d9c8db"></div>
<div class="c" style="left:786.09px;top:180.90px;background:#cdb3d1"></div>
<div class="c" style="left:821.25px;top:180.90px;background:#cdb3d1"></div>
<div class="c" style="left:838.83px;top:180.90px;background:#aa83b1"></div>
<div class="c" style="left:856.41px;top:180.90px;background:#cdb3d1"></div>
<div class="c" style="left:873.99px;top:180.90px;background:#aa83b1"></div>
<div class="c" style="left:891.57px;top:180.90px;background:#aa83b1"></div>
<div class="c" style="left:926.73px;top:180.90px;background:#35804c"></div>
<div class="c" style="left:100.47px;top:198.48px;background:#f1f2f1"></div>
<div class="c" style="left:118.05px;top:198.48px;background:#fee590"></div>
<div class="c" style="left:135.63px;top:198.48px;background:#9868a2"></div>
<div class="c" style="left:153.21px;top:198.48px;background:#bb98c1"></div>
<div class="c" style="left:170.79px;top:198.48px;background:#cdb3d1"></div>
<div class="c" style="left:188.37px;top:198.48px;background:#cdb3d1"></div>
<div class="c" style="left:205.95px;top:198.48px;background:#d9c8db"></div>
<div class="c" style="left:223.53px;top:198.48px;background:#bb98c1"></div>
<div class="c" style="left:241.11px;top:198.48px;background:#bb98c1"></div>
<div class="c" style="left:258.69px;top:198.48px;background:#9868a2"></div>
<div class="c" style="left:276.27px;top:198.48px;background:#aa83b1"></div>
<div class="c" style="left:293.85px;top:198.48px;background:#8cb898"></div>
<div class="c" style="left:311.43px;top:198.48px;background:#9868a2"></div>
<div class="c" style="left:329.01px;top:198.48px;background:#5f9e74"></div>
<div class="c" style="left:346.59px;top:198.48px;background:#cdb3d1"></div>
<div class="c" style="left:364.17px;top:198.48px;background:#9868a2"></div>
<div class="c" style="left:381.75px;top:198.48px;background:#cdb3d1"></div>
<div class="c" style="left:399.33px;top:198.48px;background:#aa83b1"></div>
<div class="c" style="left:416.91px;top:198.48px;background:#9868a2"></div>
<div class="c" style="left:434.49px;top:198.48px;background:#cdb3d1"></div>
<div class="c" style="left:452.07px;top:198.48px;background:#8e5a9a;border:2px solid #111;border-radius:4px;box-shadow:0 0 0 0.8px rgba(255,255,255,0.5);width:18px;height:18px;left:450.87px;top:197.68px"></div>
<div class="c" style="left:469.65px;top:198.48px;background:#aa83b1"></div>
<div class="c" style="left:487.23px;top:198.48px;background:#cdb3d1"></div>
<div class="c" style="left:504.81px;top:198.48px;background:#cdb3d1"></div>
<div class="c" style="left:522.39px;top:198.48px;background:#cdb3d1"></div>
<div class="c" style="left:539.97px;top:198.48px;background:#bb98c1"></div>
<div class="c" style="left:557.55px;top:198.48px;background:#d9c8db"></div>
<div class="c" style="left:575.13px;top:198.48px;background:#cdb3d1"></div>
<div class="c" style="left:592.71px;top:198.48px;background:#cdb3d1"></div>
<div class="c" style="left:610.29px;top:198.48px;background:#d9c8db"></div>
<div class="c" style="left:627.87px;top:198.48px;background:#bb98c1"></div>
<div class="c" style="left:645.45px;top:198.48px;background:#cdb3d1"></div>
<div class="c" style="left:663.03px;top:198.48px;background:#d9c8db"></div>
<div class="c" style="left:680.61px;top:198.48px;background:#d9c8db"></div>
<div class="c" style="left:698.19px;top:198.48px;background:#cdb3d1"></div>
<div class="c" style="left:715.77px;top:198.48px;background:#e3d8e3"></div>
<div class="c" style="left:733.35px;top:198.48px;background:#cdb3d1"></div>
<div class="c" style="left:750.93px;top:198.48px;background:#d9c8db"></div>
<div class="c" style="left:768.51px;top:198.48px;background:#d9c8db"></div>
<div class="c" style="left:786.09px;top:198.48px;background:#bb98c1"></div>
<div class="c" style="left:803.67px;top:198.48px;background:#a4c8ae"></div>
<div class="c" style="left:821.25px;top:198.48px;background:#bb98c1"></div>
<div class="c" style="left:838.83px;top:198.48px;background:#e3d8e3"></div>
<div class="c" style="left:856.41px;top:198.48px;background:#9868a2"></div>
<div class="c" style="left:873.99px;top:198.48px;background:#e3d8e3"></div>
<div class="c" style="left:891.57px;top:198.48px;background:#9868a2"></div>
<div class="c" style="left:909.15px;top:198.48px;background:#9868a2"></div>
<div class="c" style="left:926.73px;top:198.48px;background:#8cb898"></div>
<div class="c" style="left:100.47px;top:216.06px;background:#f1f2f1"></div>
<div class="c" style="left:118.05px;top:216.06px;background:#d9c8db"></div>
<div class="c" style="left:135.63px;top:216.06px;background:#d9c8db"></div>
<div class="c" style="left:153.21px;top:216.06px;background:#cdb3d1"></div>
<div class="c" style="left:170.79px;top:216.06px;background:#bb98c1"></div>
<div class="c" style="left:188.37px;top:216.06px;background:#9868a2"></div>
<div class="c" style="left:205.95px;top:216.06px;background:#d9c8db"></div>
<div class="c" style="left:223.53px;top:216.06px;background:#bb98c1"></div>
<div class="c" style="left:241.11px;top:216.06px;background:#cdb3d1"></div>
<div class="c" style="left:258.69px;top:216.06px;background:#bb98c1"></div>
<div class="c" style="left:276.27px;top:216.06px;background:#d9c8db"></div>
<div class="c" style="left:293.85px;top:216.06px;background:#8cb898"></div>
<div class="c" style="left:311.43px;top:216.06px;background:#f1f2f1"></div>
<div class="c" style="left:329.01px;top:216.06px;background:#d4e4d9"></div>
<div class="c" style="left:346.59px;top:216.06px;background:#e3d8e3"></div>
<div class="c" style="left:364.17px;top:216.06px;background:#d9c8db"></div>
<div class="c" style="left:381.75px;top:216.06px;background:#d9c8db"></div>
<div class="c" style="left:399.33px;top:216.06px;background:#cdb3d1"></div>
<div class="c" style="left:416.91px;top:216.06px;background:#bb98c1"></div>
<div class="c" style="left:434.49px;top:216.06px;background:#d9c8db"></div>
<div class="c" style="left:452.07px;top:216.06px;background:#d9c8db"></div>
<div class="c" style="left:469.65px;top:216.06px;background:#d9c8db"></div>
<div class="c" style="left:487.23px;top:216.06px;background:#d4e4d9"></div>
<div class="c" style="left:504.81px;top:216.06px;background:#e3d8e3"></div>
<div class="c" style="left:522.39px;top:216.06px;background:#cdb3d1"></div>
<div class="c" style="left:539.97px;top:216.06px;background:#e3d8e3"></div>
<div class="c" style="left:557.55px;top:216.06px;background:#bb98c1"></div>
<div class="c" style="left:575.13px;top:216.06px;background:#f1f2f1"></div>
<div class="c" style="left:592.71px;top:216.06px;background:#cdb3d1"></div>
<div class="c" style="left:610.29px;top:216.06px;background:#cdb3d1"></div>
<div class="c" style="left:627.87px;top:216.06px;background:#bb98c1"></div>
<div class="c" style="left:645.45px;top:216.06px;background:#bb98c1"></div>
<div class="c" style="left:663.03px;top:216.06px;background:#aa83b1"></div>
<div class="c" style="left:680.61px;top:216.06px;background:#bed7c7"></div>
<div class="c" style="left:698.19px;top:216.06px;background:#cdb3d1"></div>
<div class="c" style="left:715.77px;top:216.06px;background:#d9c8db"></div>
<div class="c" style="left:733.35px;top:216.06px;background:#cdb3d1"></div>
<div class="c" style="left:750.93px;top:216.06px;background:#bb98c1"></div>
<div class="c" style="left:768.51px;top:216.06px;background:#d4e4d9"></div>
<div class="c" style="left:786.09px;top:216.06px;background:#aa83b1"></div>
<div class="c" style="left:803.67px;top:216.06px;background:#bb98c1"></div>
<div class="c" style="left:821.25px;top:216.06px;background:#cdb3d1"></div>
<div class="c" style="left:838.83px;top:216.06px;background:#cdb3d1"></div>
<div class="c" style="left:856.41px;top:216.06px;background:#9868a2"></div>
<div class="c" style="left:873.99px;top:216.06px;background:#9868a2"></div>
<div class="c" style="left:909.15px;top:216.06px;background:#aa83b1"></div>
<div class="c" style="left:926.73px;top:216.06px;background:#8cb898"></div>
<div class="c" style="left:100.47px;top:233.64px;background:#cdb3d1"></div>
<div class="c" style="left:118.05px;top:233.64px;background:#cdb3d1"></div>
<div class="c" style="left:135.63px;top:233.64px;background:#fee590"></div>
<div class="c" style="left:153.21px;top:233.64px;background:#bb98c1"></div>
<div class="c" style="left:170.79px;top:233.64px;background:#bb98c1"></div>
<div class="c" style="left:188.37px;top:233.64px;background:#bb98c1"></div>
<div class="c" style="left:205.95px;top:233.64px;background:#aa83b1"></div>
<div class="c" style="left:223.53px;top:233.64px;background:#cdb3d1"></div>
<div class="c" style="left:241.11px;top:233.64px;background:#d9c8db"></div>
<div class="c" style="left:258.69px;top:233.64px;background:#9868a2"></div>
<div class="c" style="left:276.27px;top:233.64px;background:#a4c8ae"></div>
<div class="c" style="left:311.43px;top:233.64px;background:#a4c8ae"></div>
<div class="c" style="left:329.01px;top:233.64px;background:#bb98c1"></div>
<div class="c" style="left:346.59px;top:233.64px;background:#d9c8db"></div>
<div class="c" style="left:364.17px;top:233.64px;background:#e3d8e3"></div>
<div class="c" style="left:381.75px;top:233.64px;background:#cdb3d1"></div>
<div class="c" style="left:399.33px;top:233.64px;background:#fee590"></div>
<div class="c" style="left:416.91px;top:233.64px;background:#bb98c1"></div>
<div class="c" style="left:434.49px;top:233.64px;background:#d9c8db"></div>
<div class="c" style="left:452.07px;top:233.64px;background:#d9c8db"></div>
<div class="c" style="left:469.65px;top:233.64px;background:#cdb3d1"></div>
<div class="c" style="left:487.23px;top:233.64px;background:#bed7c7"></div>
<div class="c" style="left:504.81px;top:233.64px;background:#cdb3d1"></div>
<div class="c" style="left:522.39px;top:233.64px;background:#d9c8db"></div>
<div class="c" style="left:539.97px;top:233.64px;background:#bb98c1"></div>
<div class="c" style="left:557.55px;top:233.64px;background:#d9c8db"></div>
<div class="c" style="left:575.13px;top:233.64px;background:#bed7c7"></div>
<div class="c" style="left:592.71px;top:233.64px;background:#cdb3d1"></div>
<div class="c" style="left:610.29px;top:233.64px;background:#e3d8e3"></div>
<div class="c" style="left:627.87px;top:233.64px;background:#9868a2"></div>
<div class="c" style="left:645.45px;top:233.64px;background:#bb98c1"></div>
<div class="c" style="left:663.03px;top:233.64px;background:#d9c8db"></div>
<div class="c" style="left:698.19px;top:233.64px;background:#fee590"></div>
<div class="c" style="left:715.77px;top:233.64px;background:#bb98c1"></div>
<div class="c" style="left:733.35px;top:233.64px;background:#d9c8db"></div>
<div class="c" style="left:750.93px;top:233.64px;background:#bb98c1"></div>
<div class="c" style="left:768.51px;top:233.64px;background:#bb98c1"></div>
<div class="c" style="left:786.09px;top:233.64px;background:#cdb3d1"></div>
<div class="c" style="left:803.67px;top:233.64px;background:#cdb3d1"></div>
<div class="c" style="left:821.25px;top:233.64px;background:#cdb3d1"></div>
<div class="c" style="left:838.83px;top:233.64px;background:#aa83b1"></div>
<div class="c" style="left:856.41px;top:233.64px;background:#cdb3d1"></div>
<div class="c" style="left:873.99px;top:233.64px;background:#9868a2"></div>
<div class="c" style="left:891.57px;top:233.64px;background:#aa83b1"></div>
<div class="c" style="left:909.15px;top:233.64px;background:#aa83b1"></div>
<div class="c" style="left:926.73px;top:233.64px;background:#8cb898"></div>
<div class="c" style="left:100.47px;top:251.22px;background:#e3d8e3"></div>
<div class="c" style="left:118.05px;top:251.22px;background:#cdb3d1"></div>
<div class="c" style="left:135.63px;top:251.22px;background:#cdb3d1"></div>
<div class="c" style="left:153.21px;top:251.22px;background:#cdb3d1"></div>
<div class="c" style="left:170.79px;top:251.22px;background:#aa83b1"></div>
<div class="c" style="left:188.37px;top:251.22px;background:#aa83b1"></div>
<div class="c" style="left:205.95px;top:251.22px;background:#d9c8db"></div>
<div class="c" style="left:223.53px;top:251.22px;background:#fee590"></div>
<div class="c" style="left:241.11px;top:251.22px;background:#f1f2f1"></div>
<div class="c" style="left:258.69px;top:251.22px;background:#fee590"></div>
<div class="c" style="left:276.27px;top:251.22px;background:#75aa86"></div>
<div class="c" style="left:293.85px;top:251.22px;background:#a4c8ae"></div>
<div class="c" style="left:311.43px;top:251.22px;background:#5f9e74"></div>
<div class="c" style="left:329.01px;top:251.22px;background:#5f9e74"></div>
<div class="c" style="left:364.17px;top:251.22px;background:#f1f2f1"></div>
<div class="c" style="left:381.75px;top:251.22px;background:#d9c8db"></div>
<div class="c" style="left:399.33px;top:251.22px;background:#cdb3d1"></div>
<div class="c" style="left:416.91px;top:251.22px;background:#bb98c1"></div>
<div class="c" style="left:434.49px;top:251.22px;background:#fee590"></div>
<div class="c" style="left:487.23px;top:251.22px;background:#5f9e74"></div>
<div class="c" style="left:504.81px;top:251.22px;background:#aa83b1"></div>
<div class="c" style="left:522.39px;top:251.22px;background:#d9c8db"></div>
<div class="c" style="left:557.55px;top:251.22px;background:#aa83b1"></div>
<div class="c" style="left:575.13px;top:251.22px;background:#d4e4d9"></div>
<div class="c" style="left:592.71px;top:251.22px;background:#aa83b1"></div>
<div class="c" style="left:627.87px;top:251.22px;background:#d9c8db"></div>
<div class="c" style="left:645.45px;top:251.22px;background:#bb98c1"></div>
<div class="c" style="left:663.03px;top:251.22px;background:#fee590"></div>
<div class="c" style="left:698.19px;top:251.22px;background:#d9c8db"></div>
<div class="c" style="left:715.77px;top:251.22px;background:#cdb3d1"></div>
<div class="c" style="left:733.35px;top:251.22px;background:#5f9e74"></div>
<div class="c" style="left:750.93px;top:251.22px;background:#aa83b1"></div>
<div class="c" style="left:768.51px;top:251.22px;background:#e3d8e3"></div>
<div class="c" style="left:786.09px;top:251.22px;background:#f1f2f1"></div>
<div class="c" style="left:803.67px;top:251.22px;background:#d9c8db"></div>
<div class="c" style="left:821.25px;top:251.22px;background:#d9c8db"></div>
<div class="c" style="left:838.83px;top:251.22px;background:#fee590"></div>
<div class="c" style="left:856.41px;top:251.22px;background:#9868a2"></div>
<div class="c" style="left:873.99px;top:251.22px;background:#aa83b1"></div>
<div class="c" style="left:891.57px;top:251.22px;background:#bb98c1"></div>
<div class="c" style="left:100.47px;top:268.80px;background:#d9c8db"></div>
<div class="c" style="left:135.63px;top:268.80px;background:#d9c8db"></div>
<div class="c" style="left:153.21px;top:268.80px;background:#d9c8db"></div>
<div class="c" style="left:170.79px;top:268.80px;background:#cdb3d1"></div>
<div class="c" style="left:188.37px;top:268.80px;background:#bb98c1"></div>
<div class="c" style="left:205.95px;top:268.80px;background:#cdb3d1"></div>
<div class="c" style="left:258.69px;top:268.80px;background:#aa83b1"></div>
<div class="c" style="left:276.27px;top:268.80px;background:#75aa86"></div>
<div class="c" style="left:293.85px;top:268.80px;background:#e3d8e3"></div>
<div class="c" style="left:311.43px;top:268.80px;background:#75aa86"></div>
<div class="c" style="left:329.01px;top:268.80px;background:#75aa86"></div>
<div class="c" style="left:381.75px;top:268.80px;background:#d9c8db"></div>
<div class="c" style="left:399.33px;top:268.80px;background:#bb98c1"></div>
<div class="c" style="left:416.91px;top:268.80px;background:#bb98c1"></div>
<div class="c" style="left:434.49px;top:268.80px;background:#e3d8e3"></div>
<div class="c" style="left:452.07px;top:268.80px;background:#d9c8db"></div>
<div class="c" style="left:469.65px;top:268.80px;background:#d9c8db"></div>
<div class="c" style="left:487.23px;top:268.80px;background:#75aa86"></div>
<div class="c" style="left:504.81px;top:268.80px;background:#bb98c1"></div>
<div class="c" style="left:539.97px;top:268.80px;background:#e3d8e3"></div>
<div class="c" style="left:557.55px;top:268.80px;background:#f1f2f1"></div>
<div class="c" style="left:575.13px;top:268.80px;background:#75aa86"></div>
<div class="c" style="left:592.71px;top:268.80px;background:#cdb3d1"></div>
<div class="c" style="left:627.87px;top:268.80px;background:#fee590"></div>
<div class="c" style="left:663.03px;top:268.80px;background:#cdb3d1"></div>
<div class="c" style="left:698.19px;top:268.80px;background:#d9c8db"></div>
<div class="c" style="left:715.77px;top:268.80px;background:#fee590"></div>
<div class="c" style="left:733.35px;top:268.80px;background:#5f9e74"></div>
<div class="c" style="left:750.93px;top:268.80px;background:#bb98c1"></div>
<div class="c" style="left:821.25px;top:268.80px;background:#bb98c1"></div>
<div class="c" style="left:838.83px;top:268.80px;background:#9868a2"></div>
<div class="c" style="left:856.41px;top:268.80px;background:#bb98c1"></div>
<div class="c" style="left:873.99px;top:268.80px;background:#9868a2"></div>
<div class="c" style="left:891.57px;top:268.80px;background:#9868a2"></div>
<div class="c" style="left:909.15px;top:268.80px;background:#9868a2"></div>
<div class="c" style="left:926.73px;top:268.80px;background:#a4c8ae"></div>
<div class="c" style="left:100.47px;top:286.38px;background:#d9c8db"></div>
<div class="c" style="left:118.05px;top:286.38px;background:#d9c8db"></div>
<div class="c" style="left:135.63px;top:286.38px;background:#aa83b1"></div>
<div class="c" style="left:153.21px;top:286.38px;background:#cdb3d1"></div>
<div class="c" style="left:170.79px;top:286.38px;background:#bb98c1"></div>
<div class="c" style="left:188.37px;top:286.38px;background:#cdb3d1"></div>
<div class="c" style="left:205.95px;top:286.38px;background:#f1f2f1"></div>
<div class="c" style="left:223.53px;top:286.38px;background:#e3d8e3"></div>
<div class="c" style="left:241.11px;top:286.38px;background:#e3d8e3"></div>
<div class="c" style="left:258.69px;top:286.38px;background:#bb98c1"></div>
<div class="c" style="left:276.27px;top:286.38px;background:#bb98c1"></div>
<div class="c" style="left:293.85px;top:286.38px;background:#75aa86"></div>
<div class="c" style="left:311.43px;top:286.38px;background:#bb98c1"></div>
<div class="c" style="left:329.01px;top:286.38px;background:#75aa86"></div>
<div class="c" style="left:346.59px;top:286.38px;background:#d9c8db"></div>
<div class="c" style="left:364.17px;top:286.38px;background:#e3d8e3"></div>
<div class="c" style="left:381.75px;top:286.38px;background:#f1f2f1"></div>
<div class="c" style="left:399.33px;top:286.38px;background:#bb98c1"></div>
<div class="c" style="left:416.91px;top:286.38px;background:#fee590"></div>
<div class="c" style="left:434.49px;top:286.38px;background:#e3d8e3"></div>
<div class="c" style="left:452.07px;top:286.38px;background:#f1f2f1"></div>
<div class="c" style="left:469.65px;top:286.38px;background:#aa83b1"></div>
<div class="c" style="left:487.23px;top:286.38px;background:#e3d8e3"></div>
<div class="c" style="left:504.81px;top:286.38px;background:#d9c8db"></div>
<div class="c" style="left:522.39px;top:286.38px;background:#bb98c1"></div>
<div class="c" style="left:539.97px;top:286.38px;background:#cdb3d1"></div>
<div class="c" style="left:557.55px;top:286.38px;background:#e3d8e3"></div>
<div class="c" style="left:575.13px;top:286.38px;background:#e3d8e3"></div>
<div class="c" style="left:592.71px;top:286.38px;background:#bb98c1"></div>
<div class="c" style="left:610.29px;top:286.38px;background:#d9c8db"></div>
<div class="c" style="left:645.45px;top:286.38px;background:#d9c8db"></div>
<div class="c" style="left:663.03px;top:286.38px;background:#e3d8e3"></div>
<div class="c" style="left:680.61px;top:286.38px;background:#f1f2f1"></div>
<div class="c" style="left:715.77px;top:286.38px;background:#bb98c1"></div>
<div class="c" style="left:733.35px;top:286.38px;background:#cdb3d1"></div>
<div class="c" style="left:750.93px;top:286.38px;background:#f1f2f1"></div>
<div class="c" style="left:768.51px;top:286.38px;background:#d9c8db"></div>
<div class="c" style="left:786.09px;top:286.38px;background:#bb98c1"></div>
<div class="c" style="left:803.67px;top:286.38px;background:#aa83b1"></div>
<div class="c" style="left:821.25px;top:286.38px;background:#fee590"></div>
<div class="c" style="left:838.83px;top:286.38px;background:#aa83b1"></div>
<div class="c" style="left:856.41px;top:286.38px;background:#fee590"></div>
<div class="c" style="left:873.99px;top:286.38px;background:#bed7c7"></div>
<div class="c" style="left:891.57px;top:286.38px;background:#d9c8db"></div>
<div class="c" style="left:909.15px;top:286.38px;background:#d9c8db"></div>
<div class="c" style="left:926.73px;top:286.38px;background:#75aa86"></div>
<div class="c" style="left:100.47px;top:303.96px;background:#bb98c1"></div>
<div class="c" style="left:118.05px;top:303.96px;background:#cdb3d1"></div>
<div class="c" style="left:135.63px;top:303.96px;background:#bb98c1"></div>
<div class="c" style="left:153.21px;top:303.96px;background:#e3d8e3"></div>
<div class="c" style="left:170.79px;top:303.96px;background:#fee590"></div>
<div class="c" style="left:188.37px;top:303.96px;background:#bb98c1"></div>
<div class="c" style="left:205.95px;top:303.96px;background:#d9c8db"></div>
<div class="c" style="left:223.53px;top:303.96px;background:#d9c8db"></div>
<div class="c" style="left:241.11px;top:303.96px;background:#cdb3d1"></div>
<div class="c" style="left:258.69px;top:303.96px;background:#9868a2"></div>
<div class="c" style="left:276.27px;top:303.96px;background:#fee590"></div>
<div class="c" style="left:293.85px;top:303.96px;background:#8cb898"></div>
<div class="c" style="left:311.43px;top:303.96px;background:#fee590"></div>
<div class="c" style="left:329.01px;top:303.96px;background:#f1f2f1"></div>
<div class="c" style="left:346.59px;top:303.96px;background:#cdb3d1"></div>
<div class="c" style="left:364.17px;top:303.96px;background:#fee590"></div>
<div class="c" style="left:381.75px;top:303.96px;background:#d9c8db"></div>
<div class="c" style="left:399.33px;top:303.96px;background:#aa83b1"></div>
<div class="c" style="left:416.91px;top:303.96px;background:#d9c8db"></div>
<div class="c" style="left:434.49px;top:303.96px;background:#bb98c1"></div>
<div class="c" style="left:452.07px;top:303.96px;background:#e3d8e3"></div>
<div class="c" style="left:469.65px;top:303.96px;background:#e3d8e3"></div>
<div class="c" style="left:487.23px;top:303.96px;background:#d9c8db"></div>
<div class="c" style="left:504.81px;top:303.96px;background:#aa83b1"></div>
<div class="c" style="left:522.39px;top:303.96px;background:#d9c8db"></div>
<div class="c" style="left:539.97px;top:303.96px;background:#9868a2"></div>
<div class="c" style="left:557.55px;top:303.96px;background:#d9c8db"></div>
<div class="c" style="left:575.13px;top:303.96px;background:#cdb3d1"></div>
<div class="c" style="left:592.71px;top:303.96px;background:#aa83b1"></div>
<div class="c" style="left:610.29px;top:303.96px;background:#cdb3d1"></div>
<div class="c" style="left:627.87px;top:303.96px;background:#f1f2f1"></div>
<div class="c" style="left:645.45px;top:303.96px;background:#bb98c1"></div>
<div class="c" style="left:663.03px;top:303.96px;background:#aa83b1"></div>
<div class="c" style="left:680.61px;top:303.96px;background:#e3d8e3"></div>
<div class="c" style="left:698.19px;top:303.96px;background:#bb98c1"></div>
<div class="c" style="left:715.77px;top:303.96px;background:#bb98c1"></div>
<div class="c" style="left:733.35px;top:303.96px;background:#e3d8e3"></div>
<div class="c" style="left:750.93px;top:303.96px;background:#bb98c1"></div>
<div class="c" style="left:768.51px;top:303.96px;background:#cdb3d1"></div>
<div class="c" style="left:786.09px;top:303.96px;background:#d9c8db"></div>
<div class="c" style="left:803.67px;top:303.96px;background:#d4e4d9"></div>
<div class="c" style="left:821.25px;top:303.96px;background:#bb98c1"></div>
<div class="c" style="left:838.83px;top:303.96px;background:#9868a2"></div>
<div class="c" style="left:856.41px;top:303.96px;background:#aa83b1"></div>
<div class="c" style="left:873.99px;top:303.96px;background:#d9c8db"></div>
<div class="c" style="left:891.57px;top:303.96px;background:#9868a2"></div>
<div class="c" style="left:909.15px;top:303.96px;background:#bb98c1"></div>
<div class="c" style="left:926.73px;top:303.96px;background:#5f9e74"></div>
<div class="c" style="left:100.47px;top:321.54px;background:#e3d8e3"></div>
<div class="c" style="left:118.05px;top:321.54px;background:#d9c8db"></div>
<div class="c" style="left:135.63px;top:321.54px;background:#bb98c1"></div>
<div class="c" style="left:153.21px;top:321.54px;background:#aa83b1"></div>
<div class="c" style="left:170.79px;top:321.54px;background:#d9c8db"></div>
<div class="c" style="left:188.37px;top:321.54px;background:#cdb3d1"></div>
<div class="c" style="left:205.95px;top:321.54px;background:#f1f2f1"></div>
<div class="c" style="left:223.53px;top:321.54px;background:#cdb3d1"></div>
<div class="c" style="left:241.11px;top:321.54px;background:#d9c8db"></div>
<div class="c" style="left:258.69px;top:321.54px;background:#bb98c1"></div>
<div class="c" style="left:276.27px;top:321.54px;background:#cdb3d1"></div>
<div class="c" style="left:293.85px;top:321.54px;background:#75aa86"></div>
<div class="c" style="left:311.43px;top:321.54px;background:#d9c8db"></div>
<div class="c" style="left:329.01px;top:321.54px;background:#5f9e74"></div>
<div class="c" style="left:346.59px;top:321.54px;background:#bb98c1"></div>
<div class="c" style="left:364.17px;top:321.54px;background:#d9c8db"></div>
<div class="c" style="left:381.75px;top:321.54px;background:#d9c8db"></div>
<div class="c" style="left:399.33px;top:321.54px;background:#9868a2"></div>
<div class="c" style="left:416.91px;top:321.54px;background:#9868a2"></div>
<div class="c" style="left:434.49px;top:321.54px;background:#f1f2f1"></div>
<div class="c" style="left:452.07px;top:321.54px;background:#cdb3d1"></div>
<div class="c" style="left:469.65px;top:321.54px;background:#d9c8db"></div>
<div class="c" style="left:487.23px;top:321.54px;background:#fee590"></div>
<div class="c" style="left:504.81px;top:321.54px;background:#cdb3d1"></div>
<div class="c" style="left:522.39px;top:321.54px;background:#fee590"></div>
<div class="c" style="left:539.97px;top:321.54px;background:#cdb3d1"></div>
<div class="c" style="left:557.55px;top:321.54px;background:#cdb3d1"></div>
<div class="c" style="left:575.13px;top:321.54px;background:#bb98c1"></div>
<div class="c" style="left:592.71px;top:321.54px;background:#9868a2"></div>
<div class="c" style="left:610.29px;top:321.54px;background:#d9c8db"></div>
<div class="c" style="left:627.87px;top:321.54px;background:#f1f2f1"></div>
<div class="c" style="left:645.45px;top:321.54px;background:#bb98c1"></div>
<div class="c" style="left:663.03px;top:321.54px;background:#d9c8db"></div>
<div class="c" style="left:680.61px;top:321.54px;background:#cdb3d1"></div>
<div class="c" style="left:698.19px;top:321.54px;background:#cdb3d1"></div>
<div class="c" style="left:715.77px;top:321.54px;background:#aa83b1"></div>
<div class="c" style="left:733.35px;top:321.54px;background:#fee590"></div>
<div class="c" style="left:750.93px;top:321.54px;background:#e3d8e3"></div>
<div class="c" style="left:768.51px;top:321.54px;background:#e3d8e3"></div>
<div class="c" style="left:786.09px;top:321.54px;background:#fee590"></div>
<div class="c" style="left:803.67px;top:321.54px;background:#fee590"></div>
<div class="c" style="left:821.25px;top:321.54px;background:#e3d8e3"></div>
<div class="c" style="left:838.83px;top:321.54px;background:#aa83b1"></div>
<div class="c" style="left:856.41px;top:321.54px;background:#aa83b1"></div>
<div class="c" style="left:873.99px;top:321.54px;background:#bb98c1"></div>
<div class="c" style="left:891.57px;top:321.54px;background:#cdb3d1"></div>
<div class="c" style="left:909.15px;top:321.54px;background:#aa83b1"></div>
<div class="c" style="left:926.73px;top:321.54px;background:#75aa86"></div>
<div class="c" style="left:100.47px;top:339.12px;background:#d9c8db"></div>
<div class="c" style="left:118.05px;top:339.12px;background:#bb98c1"></div>
<div class="c" style="left:135.63px;top:339.12px;background:#bb98c1"></div>
<div class="c" style="left:153.21px;top:339.12px;background:#fee590"></div>
<div class="c" style="left:170.79px;top:339.12px;background:#cdb3d1"></div>
<div class="c" style="left:188.37px;top:339.12px;background:#bb98c1"></div>
<div class="c" style="left:205.95px;top:339.12px;background:#cdb3d1"></div>
<div class="c" style="left:223.53px;top:339.12px;background:#cdb3d1"></div>
<div class="c" style="left:241.11px;top:339.12px;background:#d9c8db"></div>
<div class="c" style="left:258.69px;top:339.12px;background:#cdb3d1"></div>
<div class="c" style="left:276.27px;top:339.12px;background:#f1f2f1"></div>
<div class="c" style="left:311.43px;top:339.12px;background:#e3d8e3"></div>
<div class="c" style="left:346.59px;top:339.12px;background:#e3d8e3"></div>
<div class="c" style="left:364.17px;top:339.12px;background:#9868a2"></div>
<div class="c" style="left:381.75px;top:339.12px;background:#cdb3d1"></div>
<div class="c" style="left:399.33px;top:339.12px;background:#cdb3d1"></div>
<div class="c" style="left:416.91px;top:339.12px;background:#bb98c1"></div>
<div class="c" style="left:434.49px;top:339.12px;background:#e3d8e3"></div>
<div class="c" style="left:452.07px;top:339.12px;background:#cdb3d1"></div>
<div class="c" style="left:469.65px;top:339.12px;background:#e3d8e3"></div>
<div class="c" style="left:487.23px;top:339.12px;background:#bb98c1"></div>
<div class="c" style="left:504.81px;top:339.12px;background:#cdb3d1"></div>
<div class="c" style="left:522.39px;top:339.12px;background:#d9c8db"></div>
<div class="c" style="left:539.97px;top:339.12px;background:#cdb3d1"></div>
<div class="c" style="left:557.55px;top:339.12px;background:#cdb3d1"></div>
<div class="c" style="left:575.13px;top:339.12px;background:#f1f2f1"></div>
<div class="c" style="left:592.71px;top:339.12px;background:#bb98c1"></div>
<div class="c" style="left:610.29px;top:339.12px;background:#cdb3d1"></div>
<div class="c" style="left:627.87px;top:339.12px;background:#e3d8e3"></div>
<div class="c" style="left:645.45px;top:339.12px;background:#d9c8db"></div>
<div class="c" style="left:663.03px;top:339.12px;background:#bb98c1"></div>
<div class="c" style="left:680.61px;top:339.12px;background:#e3d8e3"></div>
<div class="c" style="left:698.19px;top:339.12px;background:#d9c8db"></div>
<div class="c" style="left:715.77px;top:339.12px;background:#d9c8db"></div>
<div class="c" style="left:733.35px;top:339.12px;background:#d9c8db"></div>
<div class="c" style="left:750.93px;top:339.12px;background:#cdb3d1"></div>
<div class="c" style="left:768.51px;top:339.12px;background:#fee590"></div>
<div class="c" style="left:786.09px;top:339.12px;background:#aa83b1"></div>
<div class="c" style="left:803.67px;top:339.12px;background:#d9c8db"></div>
<div class="c" style="left:821.25px;top:339.12px;background:#e3d8e3"></div>
<div class="c" style="left:838.83px;top:339.12px;background:#9868a2"></div>
<div class="c" style="left:856.41px;top:339.12px;background:#f1f2f1"></div>
<div class="c" style="left:873.99px;top:339.12px;background:#9868a2"></div>
<div class="c" style="left:891.57px;top:339.12px;background:#aa83b1"></div>
<div class="c" style="left:909.15px;top:339.12px;background:#aa83b1"></div>
<div class="c" style="left:926.73px;top:339.12px;background:#5f9e74"></div>
<div class="c" style="left:100.47px;top:356.70px;background:#f1f2f1"></div>
<div class="c" style="left:118.05px;top:356.70px;background:#bb98c1"></div>
<div class="c" style="left:135.63px;top:356.70px;background:#cdb3d1"></div>
<div class="c" style="left:153.21px;top:356.70px;background:#aa83b1"></div>
<div class="c" style="left:170.79px;top:356.70px;background:#cdb3d1"></div>
<div class="c" style="left:188.37px;top:356.70px;background:#cdb3d1"></div>
<div class="c" style="left:223.53px;top:356.70px;background:#aa83b1"></div>
<div class="c" style="left:241.11px;top:356.70px;background:#d9c8db"></div>
<div class="c" style="left:258.69px;top:356.70px;background:#d9c8db"></div>
<div class="c" style="left:276.27px;top:356.70px;background:#d9c8db"></div>
<div class="c" style="left:311.43px;top:356.70px;background:#cdb3d1"></div>
<div class="c" style="left:329.01px;top:356.70px;background:#75aa86"></div>
<div class="c" style="left:346.59px;top:356.70px;background:#9868a2"></div>
<div class="c" style="left:364.17px;top:356.70px;background:#aa83b1"></div>
<div class="c" style="left:381.75px;top:356.70px;background:#e3d8e3"></div>
<div class="c" style="left:399.33px;top:356.70px;background:#cdb3d1"></div>
<div class="c" style="left:434.49px;top:356.70px;background:#cdb3d1"></div>
<div class="c" style="left:452.07px;top:356.70px;background:#cdb3d1"></div>
<div class="c" style="left:469.65px;top:356.70px;background:#aa83b1"></div>
<div class="c" style="left:487.23px;top:356.70px;background:#d9c8db"></div>
<div class="c" style="left:504.81px;top:356.70px;background:#9868a2"></div>
<div class="c" style="left:522.39px;top:356.70px;background:#bb98c1"></div>
<div class="c" style="left:539.97px;top:356.70px;background:#e3d8e3"></div>
<div class="c" style="left:575.13px;top:356.70px;background:#fee590"></div>
<div class="c" style="left:592.71px;top:356.70px;background:#bb98c1"></div>
<div class="c" style="left:610.29px;top:356.70px;background:#aa83b1"></div>
<div class="c" style="left:627.87px;top:356.70px;background:#cdb3d1"></div>
<div class="c" style="left:645.45px;top:356.70px;background:#bb98c1"></div>
<div class="c" style="left:663.03px;top:356.70px;background:#aa83b1"></div>
<div class="c" style="left:680.61px;top:356.70px;background:#fee590"></div>
<div class="c" style="left:698.19px;top:356.70px;background:#aa83b1"></div>
<div class="c" style="left:715.77px;top:356.70px;background:#bb98c1"></div>
<div class="c" style="left:733.35px;top:356.70px;background:#bb98c1"></div>
<div class="c" style="left:750.93px;top:356.70px;background:#f1f2f1"></div>
<div class="c" style="left:786.09px;top:356.70px;background:#d9c8db"></div>
<div class="c" style="left:803.67px;top:356.70px;background:#cdb3d1"></div>
<div class="c" style="left:821.25px;top:356.70px;background:#e3d8e3"></div>
<div class="c" style="left:838.83px;top:356.70px;background:#bb98c1"></div>
<div class="c" style="left:856.41px;top:356.70px;background:#9868a2"></div>
<div class="c" style="left:873.99px;top:356.70px;background:#aa83b1"></div>
<div class="c" style="left:891.57px;top:356.70px;background:#aa83b1"></div>
<div class="c" style="left:909.15px;top:356.70px;background:#aa83b1"></div>
<div class="c" style="left:926.73px;top:356.70px;background:#75aa86"></div>
<div class="c" style="left:100.47px;top:374.28px;background:#aa83b1"></div>
<div class="c" style="left:118.05px;top:374.28px;background:#aa83b1"></div>
<div class="c" style="left:135.63px;top:374.28px;background:#d9c8db"></div>
<div class="c" style="left:153.21px;top:374.28px;background:#d9c8db"></div>
<div class="c" style="left:170.79px;top:374.28px;background:#cdb3d1"></div>
<div class="c" style="left:188.37px;top:374.28px;background:#cdb3d1"></div>
<div class="c" style="left:205.95px;top:374.28px;background:#d9c8db"></div>
<div class="c" style="left:223.53px;top:374.28px;background:#aa83b1"></div>
<div class="c" style="left:241.11px;top:374.28px;background:#bed7c7"></div>
<div class="c" style="left:258.69px;top:374.28px;background:#9868a2"></div>
<div class="c" style="left:276.27px;top:374.28px;background:#cdb3d1"></div>
<div class="c" style="left:293.85px;top:374.28px;background:#75aa86"></div>
<div class="c" style="left:311.43px;top:374.28px;background:#d4e4d9"></div>
<div class="c" style="left:346.59px;top:374.28px;background:#d9c8db"></div>
<div class="c" style="left:364.17px;top:374.28px;background:#f1f2f1"></div>
<div class="c" style="left:381.75px;top:374.28px;background:#e3d8e3"></div>
<div class="c" style="left:399.33px;top:374.28px;background:#cdb3d1"></div>
<div class="c" style="left:416.91px;top:374.28px;background:#bb98c1"></div>
<div class="c" style="left:434.49px;top:374.28px;background:#d9c8db"></div>
<div class="c" style="left:452.07px;top:374.28px;background:#bb98c1"></div>
<div class="c" style="left:469.65px;top:374.28px;background:#bb98c1"></div>
<div class="c" style="left:504.81px;top:374.28px;background:#d9c8db"></div>
<div class="c" style="left:522.39px;top:374.28px;background:#aa83b1"></div>
<div class="c" style="left:539.97px;top:374.28px;background:#bed7c7"></div>
<div class="c" style="left:557.55px;top:374.28px;background:#e3d8e3"></div>
<div class="c" style="left:575.13px;top:374.28px;background:#e3d8e3"></div>
<div class="c" style="left:592.71px;top:374.28px;background:#bb98c1"></div>
<div class="c" style="left:610.29px;top:374.28px;background:#f1f2f1"></div>
<div class="c" style="left:627.87px;top:374.28px;background:#9868a2"></div>
<div class="c" style="left:645.45px;top:374.28px;background:#e3d8e3"></div>
<div class="c" style="left:663.03px;top:374.28px;background:#cdb3d1"></div>
<div class="c" style="left:680.61px;top:374.28px;background:#bb98c1"></div>
<div class="c" style="left:698.19px;top:374.28px;background:#bb98c1"></div>
<div class="c" style="left:715.77px;top:374.28px;background:#bb98c1"></div>
<div class="c" style="left:733.35px;top:374.28px;background:#bb98c1"></div>
<div class="c" style="left:750.93px;top:374.28px;background:#f1f2f1"></div>
<div class="c" style="left:768.51px;top:374.28px;background:#d9c8db"></div>
<div class="c" style="left:786.09px;top:374.28px;background:#f1f2f1"></div>
<div class="c" style="left:803.67px;top:374.28px;background:#bed7c7"></div>
<div class="c" style="left:821.25px;top:374.28px;background:#bb98c1"></div>
<div class="c" style="left:838.83px;top:374.28px;background:#cdb3d1"></div>
<div class="c" style="left:856.41px;top:374.28px;background:#aa83b1"></div>
<div class="c" style="left:873.99px;top:374.28px;background:#bb98c1"></div>
<div class="c" style="left:891.57px;top:374.28px;background:#bb98c1"></div>
<div class="c" style="left:909.15px;top:374.28px;background:#bb98c1"></div>
<div class="c" style="left:926.73px;top:374.28px;background:#75aa86"></div>
<div class="c" style="left:100.47px;top:391.86px;background:#d9c8db"></div>
<div class="c" style="left:118.05px;top:391.86px;background:#aa83b1"></div>
<div class="c" style="left:135.63px;top:391.86px;background:#9868a2"></div>
<div class="c" style="left:153.21px;top:391.86px;background:#cdb3d1"></div>
<div class="c" style="left:170.79px;top:391.86px;background:#cdb3d1"></div>
<div class="c" style="left:188.37px;top:391.86px;background:#aa83b1"></div>
<div class="c" style="left:205.95px;top:391.86px;background:#cdb3d1"></div>
<div class="c" style="left:223.53px;top:391.86px;background:#cdb3d1"></div>
<div class="c" style="left:241.11px;top:391.86px;background:#d9c8db"></div>
<div class="c" style="left:258.69px;top:391.86px;background:#e3d8e3"></div>
<div class="c" style="left:293.85px;top:391.86px;background:#e3d8e3"></div>
<div class="c" style="left:311.43px;top:391.86px;background:#a4c8ae"></div>
<div class="c" style="left:329.01px;top:391.86px;background:#75aa86"></div>
<div class="c" style="left:346.59px;top:391.86px;background:#fee590"></div>
<div class="c" style="left:364.17px;top:391.86px;background:#d9c8db"></div>
<div class="c" style="left:381.75px;top:391.86px;background:#cdb3d1"></div>
<div class="c" style="left:399.33px;top:391.86px;background:#75aa86"></div>
<div class="c" style="left:416.91px;top:391.86px;background:#e3d8e3"></div>
<div class="c" style="left:434.49px;top:391.86px;background:#cdb3d1"></div>
<div class="c" style="left:452.07px;top:391.86px;background:#bb98c1"></div>
<div class="c" style="left:504.81px;top:391.86px;background:#cdb3d1"></div>
<div class="c" style="left:522.39px;top:391.86px;background:#d9c8db"></div>
<div class="c" style="left:539.97px;top:391.86px;background:#bed7c7"></div>
<div class="c" style="left:557.55px;top:391.86px;background:#bb98c1"></div>
<div class="c" style="left:575.13px;top:391.86px;background:#e3d8e3"></div>
<div class="c" style="left:592.71px;top:391.86px;background:#cdb3d1"></div>
<div class="c" style="left:610.29px;top:391.86px;background:#cdb3d1"></div>
<div class="c" style="left:627.87px;top:391.86px;background:#d9c8db"></div>
<div class="c" style="left:645.45px;top:391.86px;background:#bb98c1"></div>
<div class="c" style="left:663.03px;top:391.86px;background:#bb98c1"></div>
<div class="c" style="left:680.61px;top:391.86px;background:#d9c8db"></div>
<div class="c" style="left:698.19px;top:391.86px;background:#cdb3d1"></div>
<div class="c" style="left:715.77px;top:391.86px;background:#d9c8db"></div>
<div class="c" style="left:750.93px;top:391.86px;background:#f1f2f1"></div>
<div class="c" style="left:768.51px;top:391.86px;background:#e3d8e3"></div>
<div class="c" style="left:803.67px;top:391.86px;background:#f1f2f1"></div>
<div class="c" style="left:821.25px;top:391.86px;background:#cdb3d1"></div>
<div class="c" style="left:838.83px;top:391.86px;background:#cdb3d1"></div>
<div class="c" style="left:856.41px;top:391.86px;background:#aa83b1"></div>
<div class="c" style="left:873.99px;top:391.86px;background:#d9c8db"></div>
<div class="c" style="left:891.57px;top:391.86px;background:#bb98c1"></div>
<div class="c" style="left:909.15px;top:391.86px;background:#d9c8db"></div>
<div class="c" style="left:926.73px;top:391.86px;background:#5f9e74"></div>
<div class="c" style="left:100.47px;top:409.44px;background:#aa83b1"></div>
<div class="c" style="left:118.05px;top:409.44px;background:#aa83b1"></div>
<div class="c" style="left:135.63px;top:409.44px;background:#d9c8db"></div>
<div class="c" style="left:153.21px;top:409.44px;background:#9868a2"></div>
<div class="c" style="left:170.79px;top:409.44px;background:#d9c8db"></div>
<div class="c" style="left:188.37px;top:409.44px;background:#e3d8e3"></div>
<div class="c" style="left:205.95px;top:409.44px;background:#fee590"></div>
<div class="c" style="left:223.53px;top:409.44px;background:#bb98c1"></div>
<div class="c" style="left:241.11px;top:409.44px;background:#bb98c1"></div>
<div class="c" style="left:258.69px;top:409.44px;background:#bb98c1"></div>
<div class="c" style="left:276.27px;top:409.44px;background:#a4c8ae"></div>
<div class="c" style="left:293.85px;top:409.44px;background:#fee590"></div>
<div class="c" style="left:311.43px;top:409.44px;background:#75aa86"></div>
<div class="c" style="left:329.01px;top:409.44px;background:#fee590"></div>
<div class="c" style="left:346.59px;top:409.44px;background:#e3d8e3"></div>
<div class="c" style="left:364.17px;top:409.44px;background:#cdb3d1"></div>
<div class="c" style="left:381.75px;top:409.44px;background:#d9c8db"></div>
<div class="c" style="left:399.33px;top:409.44px;background:#d9c8db"></div>
<div class="c" style="left:416.91px;top:409.44px;background:#cdb3d1"></div>
<div class="c" style="left:434.49px;top:409.44px;background:#d9c8db"></div>
<div class="c" style="left:452.07px;top:409.44px;background:#d9c8db"></div>
<div class="c" style="left:469.65px;top:409.44px;background:#cdb3d1"></div>
<div class="c" style="left:487.23px;top:409.44px;background:#bed7c7"></div>
<div class="c" style="left:504.81px;top:409.44px;background:#fee590"></div>
<div class="c" style="left:522.39px;top:409.44px;background:#f1f2f1"></div>
<div class="c" style="left:539.97px;top:409.44px;background:#e3d8e3"></div>
<div class="c" style="left:557.55px;top:409.44px;background:#bb98c1"></div>
<div class="c" style="left:575.13px;top:409.44px;background:#d4e4d9"></div>
<div class="c" style="left:592.71px;top:409.44px;background:#cdb3d1"></div>
<div class="c" style="left:610.29px;top:409.44px;background:#cdb3d1"></div>
<div class="c" style="left:627.87px;top:409.44px;background:#bb98c1"></div>
<div class="c" style="left:645.45px;top:409.44px;background:#aa83b1"></div>
<div class="c" style="left:663.03px;top:409.44px;background:#d9c8db"></div>
<div class="c" style="left:680.61px;top:409.44px;background:#f1f2f1"></div>
<div class="c" style="left:698.19px;top:409.44px;background:#aa83b1"></div>
<div class="c" style="left:715.77px;top:409.44px;background:#aa83b1"></div>
<div class="c" style="left:733.35px;top:409.44px;background:#a4c8ae"></div>
<div class="c" style="left:750.93px;top:409.44px;background:#cdb3d1"></div>
<div class="c" style="left:768.51px;top:409.44px;background:#cdb3d1"></div>
<div class="c" style="left:786.09px;top:409.44px;background:#d9c8db"></div>
<div class="c" style="left:803.67px;top:409.44px;background:#bed7c7"></div>
<div class="c" style="left:821.25px;top:409.44px;background:#bb98c1"></div>
<div class="c" style="left:838.83px;top:409.44px;background:#aa83b1"></div>
<div class="c" style="left:856.41px;top:409.44px;background:#f1f2f1"></div>
<div class="c" style="left:873.99px;top:409.44px;background:#fee590"></div>
<div class="c" style="left:891.57px;top:409.44px;background:#cdb3d1"></div>
<div class="c" style="left:909.15px;top:409.44px;background:#d9c8db"></div>
<div class="c" style="left:926.73px;top:409.44px;background:#5f9e74"></div>
<div class="c" style="left:100.47px;top:427.02px;background:#75aa86"></div>
<div class="c" style="left:118.05px;top:427.02px;background:#d9c8db"></div>
<div class="c" style="left:135.63px;top:427.02px;background:#e3d8e3"></div>
<div class="c" style="left:153.21px;top:427.02px;background:#cdb3d1"></div>
<div class="c" style="left:170.79px;top:427.02px;background:#e3d8e3"></div>
<div class="c" style="left:188.37px;top:427.02px;background:#cdb3d1"></div>
<div class="c" style="left:205.95px;top:427.02px;background:#f1f2f1"></div>
<div class="c" style="left:241.11px;top:427.02px;background:#d9c8db"></div>
<div class="c" style="left:258.69px;top:427.02px;background:#d4e4d9"></div>
<div class="c" style="left:276.27px;top:427.02px;background:#8cb898"></div>
<div class="c" style="left:293.85px;top:427.02px;background:#5f9e74"></div>
<div class="c" style="left:311.43px;top:427.02px;background:#75aa86"></div>
<div class="c" style="left:329.01px;top:427.02px;background:#75aa86"></div>
<div class="c" style="left:346.59px;top:427.02px;background:#5f9e74"></div>
<div class="c" style="left:364.17px;top:427.02px;background:#75aa86"></div>
<div class="c" style="left:381.75px;top:427.02px;background:#a4c8ae"></div>
<div class="c" style="left:399.33px;top:427.02px;background:#e3d8e3"></div>
<div class="c" style="left:416.91px;top:427.02px;background:#bb98c1"></div>
<div class="c" style="left:434.49px;top:427.02px;background:#e3d8e3"></div>
<div class="c" style="left:452.07px;top:427.02px;background:#e3d8e3"></div>
<div class="c" style="left:469.65px;top:427.02px;background:#75aa86"></div>
<div class="c" style="left:487.23px;top:427.02px;background:#5f9e74"></div>
<div class="c" style="left:504.81px;top:427.02px;background:#bed7c7"></div>
<div class="c" style="left:522.39px;top:427.02px;background:#75aa86"></div>
<div class="c" style="left:539.97px;top:427.02px;background:#75aa86"></div>
<div class="c" style="left:557.55px;top:427.02px;background:#f1f2f1"></div>
<div class="c" style="left:575.13px;top:427.02px;background:#5f9e74"></div>
<div class="c" style="left:592.71px;top:427.02px;background:#fee590"></div>
<div class="c" style="left:610.29px;top:427.02px;background:#f1f2f1"></div>
<div class="c" style="left:645.45px;top:427.02px;background:#bb98c1"></div>
<div class="c" style="left:663.03px;top:427.02px;background:#bb98c1"></div>
<div class="c" style="left:680.61px;top:427.02px;background:#8cb898"></div>
<div class="c" style="left:698.19px;top:427.02px;background:#cdb3d1"></div>
<div class="c" style="left:715.77px;top:427.02px;background:#bed7c7"></div>
<div class="c" style="left:733.35px;top:427.02px;background:#75aa86"></div>
<div class="c" style="left:750.93px;top:427.02px;background:#75aa86"></div>
<div class="c" style="left:768.51px;top:427.02px;background:#e3d8e3"></div>
<div class="c" style="left:786.09px;top:427.02px;background:#75aa86"></div>
<div class="c" style="left:803.67px;top:427.02px;background:#5f9e74"></div>
<div class="c" style="left:821.25px;top:427.02px;background:#d9c8db"></div>
<div class="c" style="left:838.83px;top:427.02px;background:#cdb3d1"></div>
<div class="c" style="left:856.41px;top:427.02px;background:#5f9e74"></div>
<div class="c" style="left:873.99px;top:427.02px;background:#d4e4d9"></div>
<div class="c" style="left:891.57px;top:427.02px;background:#fee590"></div>
<div class="c" style="left:909.15px;top:427.02px;background:#aa83b1"></div>
<div class="c" style="left:926.73px;top:427.02px;background:#5f9e74"></div>
</div>
<div class="tk" style="left:107.97px;top:65px;height:4.8px"></div>
<div class="tl" style="left:93.47px;top:72px">151</div>
<div class="tk" style="left:107.97px;top:498px;height:4.6px"></div>
<div class="tl" style="left:93.47px;top:505px">151</div>
<div class="tk" style="left:143.13px;top:65px;height:4.8px"></div>
<div class="tl" style="left:128.63px;top:72px">153</div>
<div class="tk" style="left:143.13px;top:498px;height:4.6px"></div>
<div class="tl" style="left:128.63px;top:505px">153</div>
<div class="tk" style="left:178.29px;top:65px;height:4.8px"></div>
<div class="tl" style="left:163.79px;top:72px">155</div>
<div class="tk" style="left:178.29px;top:498px;height:4.6px"></div>
<div class="tl" style="left:163.79px;top:505px">155</div>
<div class="tk" style="left:213.45px;top:65px;height:4.8px"></div>
<div class="tl" style="left:198.95px;top:72px">157</div>
<div class="tk" style="left:213.45px;top:498px;height:4.6px"></div>
<div class="tl" style="left:198.95px;top:505px">157</div>
<div class="tk" style="left:248.61px;top:65px;height:4.8px"></div>
<div class="tl" style="left:234.11px;top:72px">159</div>
<div class="tk" style="left:248.61px;top:498px;height:4.6px"></div>
<div class="tl" style="left:234.11px;top:505px">159</div>
<div class="tk" style="left:283.77px;top:65px;height:4.8px"></div>
<div class="tl" style="left:269.27px;top:72px">161</div>
<div class="tk" style="left:283.77px;top:498px;height:4.6px"></div>
<div class="tl" style="left:269.27px;top:505px">161</div>
<div class="tk" style="left:318.93px;top:65px;height:4.8px"></div>
<div class="tl" style="left:304.43px;top:72px">163</div>
<div class="tk" style="left:318.93px;top:498px;height:4.6px"></div>
<div class="tl" style="left:304.43px;top:505px">163</div>
<div class="tk" style="left:354.09px;top:65px;height:4.8px"></div>
<div class="tl" style="left:339.59px;top:72px">165</div>
<div class="tk" style="left:354.09px;top:498px;height:4.6px"></div>
<div class="tl" style="left:339.59px;top:505px">165</div>
<div class="tk" style="left:389.25px;top:65px;height:4.8px"></div>
<div class="tl" style="left:374.75px;top:72px">167</div>
<div class="tk" style="left:389.25px;top:498px;height:4.6px"></div>
<div class="tl" style="left:374.75px;top:505px">167</div>
<div class="tk" style="left:424.41px;top:65px;height:4.8px"></div>
<div class="tl" style="left:409.91px;top:72px">169</div>
<div class="tk" style="left:424.41px;top:498px;height:4.6px"></div>
<div class="tl" style="left:409.91px;top:505px">169</div>
<div class="tk" style="left:459.57px;top:65px;height:4.8px"></div>
<div class="tl" style="left:445.07px;top:72px">171</div>
<div class="tk" style="left:459.57px;top:498px;height:4.6px"></div>
<div class="tl" style="left:445.07px;top:505px">171</div>
<div class="tk" style="left:494.73px;top:65px;height:4.8px"></div>
<div class="tl" style="left:480.23px;top:72px">173</div>
<div class="tk" style="left:494.73px;top:498px;height:4.6px"></div>
<div class="tl" style="left:480.23px;top:505px">173</div>
<div class="tk" style="left:529.89px;top:65px;height:4.8px"></div>
<div class="tl" style="left:515.39px;top:72px">175</div>
<div class="tk" style="left:529.89px;top:498px;height:4.6px"></div>
<div class="tl" style="left:515.39px;top:505px">175</div>
<div class="tk" style="left:565.05px;top:65px;height:4.8px"></div>
<div class="tl" style="left:550.55px;top:72px">177</div>
<div class="tk" style="left:565.05px;top:498px;height:4.6px"></div>
<div class="tl" style="left:550.55px;top:505px">177</div>
<div class="tk" style="left:600.21px;top:65px;height:4.8px"></div>
<div class="tl" style="left:585.71px;top:72px">179</div>
<div class="tk" style="left:600.21px;top:498px;height:4.6px"></div>
<div class="tl" style="left:585.71px;top:505px">179</div>
<div class="tk" style="left:635.37px;top:65px;height:4.8px"></div>
<div class="tl" style="left:620.87px;top:72px">181</div>
<div class="tk" style="left:635.37px;top:498px;height:4.6px"></div>
<div class="tl" style="left:620.87px;top:505px">181</div>
<div class="tk" style="left:670.53px;top:65px;height:4.8px"></div>
<div class="tl" style="left:656.03px;top:72px">183</div>
<div class="tk" style="left:670.53px;top:498px;height:4.6px"></div>
<div class="tl" style="left:656.03px;top:505px">183</div>
<div class="tk" style="left:705.69px;top:65px;height:4.8px"></div>
<div class="tl" style="left:691.19px;top:72px">185</div>
<div class="tk" style="left:705.69px;top:498px;height:4.6px"></div>
<div class="tl" style="left:691.19px;top:505px">185</div>
<div class="tk" style="left:740.85px;top:65px;height:4.8px"></div>
<div class="tl" style="left:726.35px;top:72px">187</div>
<div class="tk" style="left:740.85px;top:498px;height:4.6px"></div>
<div class="tl" style="left:726.35px;top:505px">187</div>
<div class="tk" style="left:776.01px;top:65px;height:4.8px"></div>
<div class="tl" style="left:761.51px;top:72px">189</div>
<div class="tk" style="left:776.01px;top:498px;height:4.6px"></div>
<div class="tl" style="left:761.51px;top:505px">189</div>
<div class="tk" style="left:811.17px;top:65px;height:4.8px"></div>
<div class="tl" style="left:796.67px;top:72px">191</div>
<div class="tk" style="left:811.17px;top:498px;height:4.6px"></div>
<div class="tl" style="left:796.67px;top:505px">191</div>
<div class="tk" style="left:846.33px;top:65px;height:4.8px"></div>
<div class="tl" style="left:831.83px;top:72px">193</div>
<div class="tk" style="left:846.33px;top:498px;height:4.6px"></div>
<div class="tl" style="left:831.83px;top:505px">193</div>
<div class="tk" style="left:881.49px;top:65px;height:4.8px"></div>
<div class="tl" style="left:866.99px;top:72px">195</div>
<div class="tk" style="left:881.49px;top:498px;height:4.6px"></div>
<div class="tl" style="left:866.99px;top:505px">195</div>
<div class="tk" style="left:916.65px;top:65px;height:4.8px"></div>
<div class="tl" style="left:902.15px;top:72px">197</div>
<div class="tk" style="left:916.65px;top:498px;height:4.6px"></div>
<div class="tl" style="left:902.15px;top:505px">197</div>
<div class="ab" style="left:43px;top:92.3px;width:13px;height:405.5px;background:linear-gradient(to bottom,#186e37 0%,#5b9a72 18.2%,#a3c5b0 34.2%,#f3f3f3 50%,#cbb3cf 65%,#9d6da4 82.3%,#712a7a 100%)"></div>
<div class="ab" style="left:35.2px;top:134.85px;width:20.8px;height:1.3px;background:#4a5866"></div>
<div class="ab" style="left:10px;top:132.30px;width:22.5px;text-align:right;font-size:7.5px;line-height:8px;color:#4a5866">4</div>
<div class="ab" style="left:35.2px;top:197.45px;width:20.8px;height:1.3px;background:#4a5866"></div>
<div class="ab" style="left:10px;top:194.90px;width:22.5px;text-align:right;font-size:7.5px;line-height:8px;color:#4a5866">2</div>
<div class="ab" style="left:35.2px;top:260.05px;width:20.8px;height:1.3px;background:#4a5866"></div>
<div class="ab" style="left:10px;top:257.50px;width:22.5px;text-align:right;font-size:7.5px;line-height:8px;color:#4a5866">0</div>
<div class="ab" style="left:35.2px;top:322.65px;width:20.8px;height:1.3px;background:#4a5866"></div>
<div class="ab" style="left:10px;top:320.10px;width:22.5px;text-align:right;font-size:7.5px;line-height:8px;color:#4a5866">−2</div>
<div class="ab" style="left:35.2px;top:385.25px;width:20.8px;height:1.3px;background:#4a5866"></div>
<div class="ab" style="left:10px;top:382.70px;width:22.5px;text-align:right;font-size:7.5px;line-height:8px;color:#4a5866">−4</div>
<div class="ab" style="left:35.2px;top:447.85px;width:20.8px;height:1.3px;background:#4a5866"></div>
<div class="ab" style="left:10px;top:445.30px;width:22.5px;text-align:right;font-size:7.5px;line-height:8px;color:#4a5866">−6</div>
<div class="gl" style="left:12.3px;top:294px;font-size:8.2px;color:#333a42">Functional Score</div>
<div class="gb" style="top:93.40px;height:50.36px"></div>
<div class="gl" style="left:71.5px;top:118.58px;font-size:7.6px;letter-spacing:0.4px">(+)</div>
<div class="gb" style="top:146.14px;height:32.78px"></div>
<div class="gl" style="left:71.5px;top:162.53px;font-size:7.6px;letter-spacing:0.4px">(-)</div>
<div class="gb" style="top:181.30px;height:103.10px"></div>
<div class="gl" style="left:71.5px;top:232.85px;letter-spacing:0.3px">polar-neutral</div>
<div class="gb" style="top:286.78px;height:67.94px"></div>
<div class="gl" style="left:71.5px;top:320.75px;">non-polar</div>
<div class="gb" style="top:357.10px;height:50.36px"></div>
<div class="gl" style="left:71.5px;top:382.28px;">aromatic</div>
<div class="gb" style="top:409.84px;height:32.78px"></div>
<div class="gl" style="left:71.5px;top:426.23px;">unique</div>
<div class="rl" style="left:81.5px;top:95.00px">H</div>
<div class="rl" style="left:81.5px;top:112.58px">K</div>
<div class="rl" style="left:81.5px;top:130.16px">R</div>
<div class="rl" style="left:81.5px;top:147.74px">E</div>
<div class="rl" style="left:81.5px;top:165.32px">D</div>
<div class="rl" style="left:81.5px;top:182.90px">C</div>
<div class="rl" style="left:81.5px;top:200.48px">M</div>
<div class="rl" style="left:81.5px;top:218.06px">T</div>
<div class="rl" style="left:81.5px;top:235.64px">S</div>
<div class="rl" style="left:81.5px;top:253.22px">Q</div>
<div class="rl" style="left:81.5px;top:270.80px">N</div>
<div class="rl" style="left:81.5px;top:288.38px">I</div>
<div class="rl" style="left:81.5px;top:305.96px">V</div>
<div class="rl" style="left:81.5px;top:323.54px">L</div>
<div class="rl" style="left:81.5px;top:341.12px">A</div>
<div class="rl" style="left:81.5px;top:358.70px">F</div>
<div class="rl" style="left:81.5px;top:376.28px">W</div>
<div class="rl" style="left:81.5px;top:393.86px">Y</div>
<div class="rl" style="left:81.5px;top:411.44px">G</div>
<div class="rl" style="left:81.5px;top:429.02px">P</div>
<div class="ab" style="left:85px;top:451.1px;width:7px;height:1.7px;background:#8d99a3"></div>
<svg class="ab" style="left:84.8px;top:466.3px" width="8" height="8" viewBox="0 0 8 8"><g stroke="#1e3040" stroke-width="1.05" stroke-linecap="butt"><line x1="4" y1="0.6" x2="4" y2="7.4"/><line x1="1.1" y1="2.3" x2="6.9" y2="5.7"/><line x1="1.1" y1="5.7" x2="6.9" y2="2.3"/></g></svg>
<div class="ab" style="left:85px;top:485.9px;width:7px;height:1.3px;background:#7a8894"></div>
<div class="ab" style="left:85px;top:488.8px;width:7px;height:1.3px;background:#7a8894"></div>
<div class="ab" style="left:477.3px;top:148.3px;width:206.3px;height:66.3px;background:#fff;border:1px solid #000;border-radius:4px"></div>
<div class="ab" style="left:482.5px;top:157.3px;font-size:12px;line-height:13px;color:#1a1a1a;white-space:nowrap;letter-spacing:0.22px">Variant: NP_000242.1:p.Arg171Met</div>
<div class="ab" style="left:482.5px;top:175.8px;font-size:12px;line-height:13px;color:#1a1a1a;white-space:nowrap;letter-spacing:0.4px"># of observations: 1</div>
<div class="ab" style="left:482.5px;top:194.6px;font-size:12px;line-height:13px;color:#1a1a1a;white-space:nowrap;letter-spacing:0.28px">Score: -6.202257276453937</div>
</div></body></html>
